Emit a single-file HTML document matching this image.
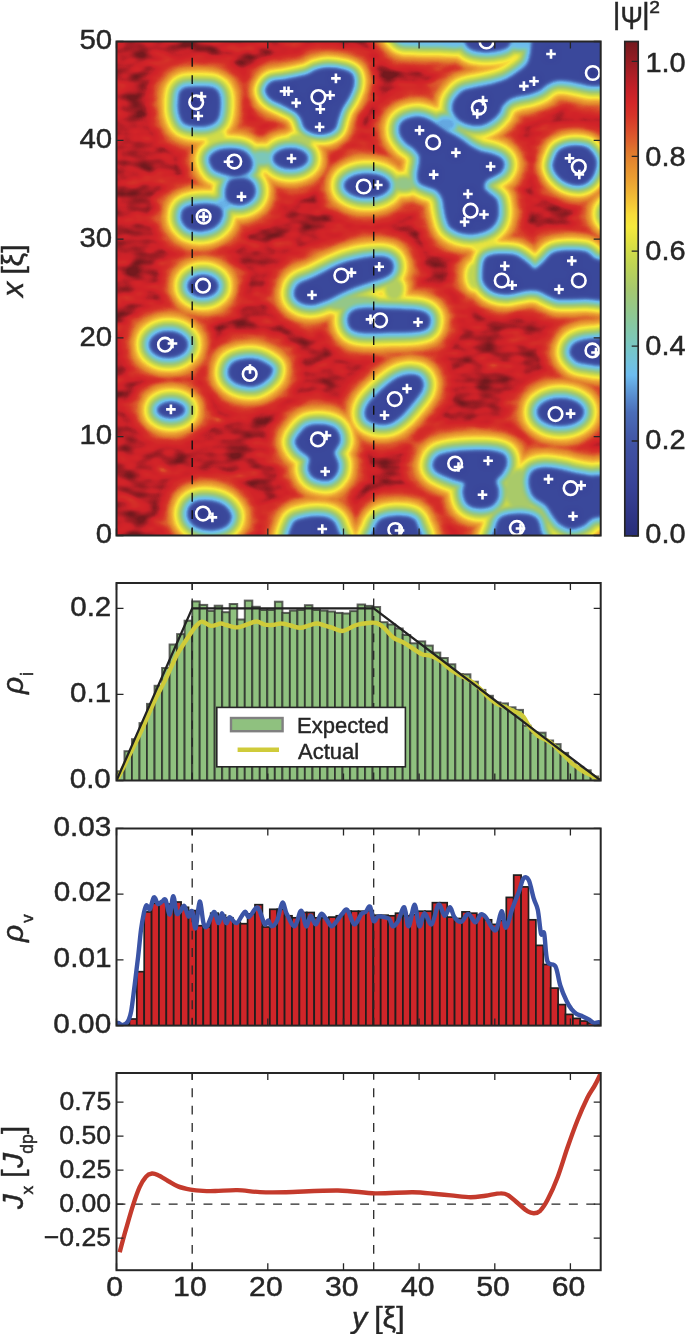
<!DOCTYPE html><html><head><meta charset="utf-8"><style>html,body{margin:0;padding:0;background:#fff;}svg{display:block;will-change:transform;}text{fill:#262626;stroke:#262626;stroke-width:0.45px;font-family:'Liberation Sans',sans-serif}</style></head><body>
<svg width="685" height="1334" viewBox="0 0 685 1334" style="font-family:'Liberation Sans',sans-serif">
<g font-size="28">
<defs>
<path id="B1" d="M180,92C181.2,89.8 182.7,88.3 186,87.5C189.3,86.7 195.5,86.9 200,87C204.5,87.1 209.8,86.8 213,88C216.2,89.2 217.8,90.7 219,94C220.2,97.3 220.3,103.7 220,108C219.7,112.3 219,117.1 217,120C215,122.9 211.7,124.5 208,125.5C204.3,126.5 199,126.4 195,126C191,125.6 186.7,125.2 184,123C181.3,120.8 179.9,116.7 179,113C178.1,109.3 178.3,104.5 178.5,101C178.7,97.5 178.8,94.2 180,92Z"/>
<path id="B2" d="M209.4,159.2C209.7,156.3 212.4,153.6 215.3,151.9C218.2,150.2 222.6,149.2 227,149C231.4,148.8 237.6,149 241.5,150.4C245.4,151.8 248.6,155 250.3,157.7C252,160.4 252.5,163.8 251.8,166.5C251.1,169.2 248.6,172.1 245.9,173.8C243.2,175.5 239.3,176.7 235.7,176.7C232,176.7 227.7,175 224,173.8C220.3,172.6 216.2,171.8 213.8,169.4C211.4,167 209.2,162.1 209.4,159.2Z"/>
<path id="B2b" d="M227,185.5C228,183.1 228.4,180.8 231.3,179.6C234.2,178.4 240.8,177.5 244.5,178.2C248.2,178.9 251.5,181.3 253.2,184C254.9,186.7 255.4,191.3 254.7,194.2C254,197.1 251.5,199.8 248.8,201.5C246.1,203.2 242,204.5 238.6,204.5C235.2,204.5 230.6,203.2 228.4,201.5C226.2,199.8 225.7,196.9 225.5,194.2C225.3,191.5 226,187.9 227,185.5Z"/>
<path id="B5" d="M181.7,213.2C182.3,210.8 183.4,208.8 186.1,207.4C188.8,206 193.4,205 197.8,204.5C202.2,204 208.5,203.8 212.4,204.5C216.3,205.2 219.6,206.6 221.1,208.8C222.6,211 222.7,214.7 221.7,217.6C220.7,220.5 218.3,224.2 215.3,226.4C212.3,228.6 207.7,230.2 203.6,230.7C199.5,231.2 194,230.8 190.5,229.3C187,227.9 184.1,224.7 182.6,222C181.1,219.3 181.1,215.6 181.7,213.2Z"/>
<ellipse id="B3" cx="290.5" cy="158.5" rx="17" ry="10"/>
<path id="B4" d="M265.9,88.9C266.7,86.8 268.4,83.5 271.7,81.9C275,80.3 279.9,80.7 285.7,79.5C291.5,78.3 301.6,76.5 306.7,74.9C311.8,73.4 312.6,71.4 316.1,70.2C319.6,69 323.1,67.9 327.8,67.9C332.5,67.9 340,69 344.1,70.2C348.2,71.4 350.7,72.4 352.3,74.9C353.9,77.4 354.1,81.7 353.5,85.4C352.9,89.1 350.8,93.2 348.8,97.1C346.9,101 343.6,105.2 341.8,108.7C340.1,112.2 339.5,114.8 338.3,118.1C337.1,121.4 337,126.1 334.8,128.6C332.6,131.1 329.3,132.7 325.4,133.3C321.5,133.9 314.9,133.1 311.4,132.1C307.9,131.1 306.1,129.7 304.4,127.4C302.6,125.1 302.5,120.8 300.9,118.1C299.3,115.4 297.9,113.2 295,111.1C292.1,108.9 287.3,107.2 283.4,105.2C279.5,103.2 274.4,101.2 271.7,99.4C269,97.7 268,96.5 267,94.7C266,93 265.1,91 265.9,88.9Z"/>
<ellipse id="B6" cx="203" cy="286" rx="15" ry="10.5"/>
<ellipse id="B7" cx="168.5" cy="344.6" rx="19" ry="13"/>
<path id="B8" d="M228.4,372C228.6,369.2 230.2,365.1 233,363C235.8,360.9 240.8,359.8 245,359.3C249.2,358.8 254.2,359.1 258,360C261.8,360.9 265.6,363.4 268,365C270.4,366.6 272.2,367.3 272.2,369.5C272.2,371.7 270.7,375.3 268,378C265.3,380.7 260.3,384.3 256,385.5C251.7,386.7 246,385.9 242,385C238,384.1 234.3,382.2 232,380C229.7,377.8 228.2,374.8 228.4,372Z"/>
<ellipse id="B9" cx="171" cy="410" rx="13.5" ry="7.5"/>
<path id="B11" d="M188,511C188.7,508.1 190.7,504.8 193.5,503C196.3,501.2 200.8,500.5 205,500.5C209.2,500.5 215.2,501.5 219,503C222.8,504.5 226,507 228,509.5C230,512 231.5,515.2 231,518C230.5,520.8 228.2,524.5 225,526.5C221.8,528.5 216.5,529.8 212,530C207.5,530.2 201.8,529.1 198,527.5C194.2,525.9 191.2,523.2 189.5,520.5C187.8,517.8 187.3,513.9 188,511Z"/>
<ellipse id="B14" cx="367" cy="185.6" rx="22.5" ry="11.5"/>
<path id="B15" d="M399.5,127.6C399.8,125.4 400.6,123.5 402.4,121.9C404.1,120.3 407.1,118.9 410,118.1C412.9,117.3 416.3,116.8 419.5,117.1C422.7,117.4 425.9,118.6 429,120C432.1,121.4 435.2,123.7 438.4,125.7C441.6,127.8 445.1,130.6 448,132.3C450.9,134 453,134.7 455.5,136.1C458,137.5 460.6,139.2 463.1,140.9C465.6,142.6 467.9,144.8 470.7,146.5C473.5,148.2 476.7,150 480.2,151.3C483.7,152.6 488.3,153 491.6,154.1C494.9,155.2 498.1,156.3 500.1,157.9C502.2,159.5 503.7,161.4 503.9,163.6C504.1,165.8 502.8,169.1 501.1,171.2C499.4,173.3 496,174.4 493.5,176C491,177.6 487.5,178.6 485.9,180.7C484.3,182.8 483.4,186.1 484,188.3C484.6,190.5 487.6,192.1 489.7,194C491.8,195.9 494.9,197.2 496.3,199.7C497.7,202.2 498,206 498.2,209.2C498.4,212.4 498.4,215.7 497.3,218.7C496.2,221.7 494.1,225 491.6,227.2C489.1,229.4 485.6,230.9 482.1,232C478.6,233.1 474.5,233.9 470.7,233.9C466.9,233.9 462.8,233.3 459.3,232C455.8,230.7 452,228.8 449.8,226.3C447.6,223.8 446.9,220 446,216.8C445.1,213.6 444.7,210.5 444.1,207.3C443.5,204.1 443.5,200.7 442.2,197.8C440.9,195 439,192.1 436.5,190.2C434,188.3 429.9,187.7 427.1,186.4C424.3,185.1 421.1,184.5 419.5,182.6C417.9,180.7 417.6,178.2 417.6,175C417.6,171.8 419.2,166.8 419.5,163.6C419.8,160.4 420.4,158.5 419.5,156C418.6,153.5 416,150.6 413.8,148.4C411.6,146.2 408.4,145 406.2,142.8C404,140.6 401.6,137.7 400.5,135.2C399.4,132.7 399.2,129.8 399.5,127.6Z"/>
<path id="BAND" d="M452.7,106.4C452.9,104.2 453.3,101.9 455,99.4C456.7,96.9 459.5,93.2 463,91.2C466.5,89.2 471.1,88.9 476,87.7C480.9,86.5 487.3,85.6 492.4,84.2C497.5,82.8 502,81.6 506.4,79.5C510.8,77.4 515.5,74.1 519,71.4C522.5,68.7 525.6,66.4 527.5,63.5C529.4,60.6 529.8,56.9 530.5,54C531.2,51.1 530.9,48.3 531.5,46C532.1,43.7 529.2,41.3 534,40C538.8,38.7 549,38.3 560,38C571,37.7 591.3,37.7 600,38C608.7,38.3 610,32.3 612,40C614,47.7 613.8,76.4 612,84C610.2,91.6 604.6,85.2 601,85.4C597.4,85.6 594.2,85.8 590.5,85.4C586.8,85 582.7,83.8 578.8,83C574.9,82.2 571,81.1 567.1,80.7C563.2,80.3 558.8,80.1 555.5,80.7C552.2,81.3 550,82.6 547.3,84.2C544.6,85.8 542,88.5 539.1,90.1C536.2,91.7 533.3,92.6 529.8,93.6C526.3,94.6 521.6,94.9 518.1,95.9C514.6,96.9 511.4,97.7 508.7,99.4C506,101.1 503.6,103.8 502,106C500.4,108.2 500.9,110.1 499.2,112.4C497.5,114.7 494.5,118 491.6,120C488.8,122 485.6,123.9 482.1,124.7C478.6,125.5 474.5,125.5 470.7,124.7C466.9,123.9 462.1,122 459.3,120C456.5,118 454.7,114.7 453.6,112.4C452.5,110.1 452.5,108.6 452.7,106.4Z"/>
<path id="TOP1" d="M465,30C457.5,32.3 464.8,40.8 466,44C467.2,47.2 468.6,48.2 472,49.5C475.4,50.8 481.8,51.4 486.5,51.5C491.2,51.6 496.4,50.8 500,50C503.6,49.2 506.2,48.2 508,46.5C509.8,44.8 510.5,42.8 511,40C511.5,37.2 518.7,31.7 511,30C503.3,28.3 472.5,27.7 465,30Z"/>
<path id="TOP2" d="M400,30C388.3,31.9 397.5,39.2 400,41.5C402.5,43.8 408.3,43.1 415,43.5C421.7,43.9 432.2,43.9 440,44C447.8,44.1 457,46.3 462,44C467,41.7 480.3,32.3 470,30C459.7,27.7 411.7,28.1 400,30Z"/>
<path id="B16" d="M295.3,289C296.1,286.7 296.9,285.1 300,283.2C303.1,281.3 308.6,279.9 314,277.4C319.4,274.9 327.2,270.5 332.7,268C338.1,265.5 341.6,263.8 346.7,262.2C351.8,260.6 357.6,259.1 363,258.2C368.4,257.3 375.1,256.7 379.4,256.8C383.7,256.9 386.5,257.4 388.8,258.7C391.1,260 392.6,262.2 393,264.5C393.4,266.8 392.6,270.6 391.1,272.7C389.6,274.8 387.5,275.8 384,277.4C380.5,278.9 374.7,280.4 370,282C365.3,283.6 360.7,284.9 356,286.7C351.3,288.5 346.7,290.5 342,292.6C337.3,294.8 332.7,297.7 328,299.6C323.3,301.5 318.3,303.6 314,304.2C309.7,304.8 305.5,304.2 302.4,303C299.3,301.8 296.5,299.5 295.3,297.2C294.1,294.9 294.5,291.3 295.3,289Z"/>
<path id="B18" d="M348,320C348,317.2 349.2,313.9 351.5,312C353.8,310.1 355.6,309 362,308.5C368.4,308 380.8,308.7 390,309C399.2,309.3 410.8,309.7 417,310.5C423.2,311.3 424.8,312.2 427,314C429.2,315.8 430.1,318.6 430,321C429.9,323.4 429.2,326.8 426.5,328.5C423.8,330.2 420.1,330.9 414,331.5C407.9,332.1 398.7,332.1 390,332.3C381.3,332.5 368.4,333.1 362,332.5C355.6,331.9 353.8,331.1 351.5,329C349.2,326.9 348,322.8 348,320Z"/>
<path id="B19" d="M366,417.2C364.8,414.3 365.1,409.9 367.5,405.5C369.9,401.1 375.6,395.6 380.7,391C385.8,386.4 392.8,380.5 398.2,377.8C403.6,375.1 408.9,374.6 412.8,374.9C416.7,375.1 419.9,376.9 421.5,379.3C423.1,381.7 423.6,385.6 422.1,389.5C420.7,393.4 416.3,398.2 412.8,402.6C409.3,407 405,412.4 401.1,415.8C397.2,419.2 393.8,421.9 389.4,423.1C385,424.3 378.7,424.1 374.8,423.1C370.9,422.1 367.2,420.1 366,417.2Z"/>
<path id="B12" d="M298.9,435C300.9,432.4 303.8,428 307.7,426.3C311.6,424.6 317.7,424.3 322.3,424.8C326.9,425.3 332.5,426.5 335.4,429.2C338.3,431.9 340,437 339.8,440.9C339.6,444.8 334.3,448.7 334,452.5C333.7,456.3 337.6,460.1 338,463.5C338.4,466.9 338.2,470.2 336.5,473C334.8,475.8 331.8,479.2 328,480C324.2,480.8 317.2,479.3 314,477.5C310.8,475.7 309.2,472.2 308.5,469C307.8,465.8 311,461.2 309.5,458C308,454.8 301.8,452.3 299.5,449.6C297.2,446.9 295.6,444.4 295.5,442C295.4,439.6 296.9,437.6 298.9,435Z"/>
<path id="B20" d="M433.2,464.2C433.7,461.6 435.7,457.5 439.1,455.5C442.5,453.5 447.6,452.9 453.7,452C459.8,451.1 469.2,450.5 476,450.4C482.8,450.3 490,450.7 494.7,451.5C499.4,452.3 502.2,452.9 504.1,455C506.1,457.1 506.8,461.3 506.4,464.4C506,467.5 503.4,471 501.7,473.7C499.9,476.4 496.5,478 495.9,480.7C495.3,483.4 498,487 498.2,490.1C498.4,493.2 498.5,496.7 497.1,499.4C495.7,502.1 493.5,505 490,506.4C486.5,507.8 479.9,508.2 476,507.6C472.1,507 468.8,505.4 466.7,502.9C464.6,500.4 463.6,495.7 463.2,492.4C462.8,489.1 465.8,485.2 464.4,483.1C463,481 458.1,480.8 455,479.6C451.9,478.4 448.9,477.5 445.7,476.1C442.5,474.7 438.1,473 436,471C433.9,469 432.7,466.8 433.2,464.2Z"/>
<path id="B13" d="M374.8,528.5C376.1,524.3 377.3,521.8 380.7,519.7C384.1,517.7 390.2,516.5 395.3,516.2C400.4,516 407.7,516.7 411.3,518.2C414.9,519.8 415.9,521 417.2,525.5C418.5,530 426.4,541.8 419,545C411.6,548.2 380.4,547.8 373,545C365.6,542.2 373.5,532.7 374.8,528.5Z"/>
<path id="B21" d="M293,524C295.1,519.5 300.4,519.4 304.8,518.2C309.2,517 315,516.5 319.4,516.8C323.8,517 328.1,517.8 331,519.7C333.9,521.7 335.7,524.3 336.9,528.5C338.1,532.7 345.5,542.2 338,545C330.5,547.8 299.5,548.5 292,545C284.5,541.5 290.9,528.5 293,524Z"/>
<path id="B22" d="M555.5,157C554.4,159.7 552.7,163.3 553.1,166.4C553.5,169.5 555.5,173 557.8,175.7C560.1,178.4 563.6,181.1 567.1,182.7C570.6,184.2 575.3,185.2 578.8,185C582.3,184.8 585.7,183.4 588.2,181.5C590.7,179.6 592.6,176.7 594,173.4C595.4,170.1 596.5,165 596.3,161.7C596.1,158.4 594.5,155.9 592.8,153.5C591,151.1 589.3,148.5 585.8,147.3C582.3,146.1 576.1,145.7 571.8,146.1C567.5,146.5 562.7,148.2 560,150C557.3,151.8 556.6,154.3 555.5,157Z"/>
<path id="B23" d="M483,268.4C483.2,265.3 483.4,263.3 484.2,261.4C485,259.4 485.2,257.9 487.7,256.7C490.2,255.5 494.7,254.5 499.4,254.3C504.1,254.1 511.1,254.1 515.7,255.5C520.3,256.9 523.8,260.8 527,263C530.2,265.2 532.2,269.2 535,269C537.8,268.8 541,264.6 544,262C547,259.4 549.2,255.1 553.1,253.2C557,251.3 561.7,251 567.1,250.8C572.5,250.6 581.1,250.6 585.8,252C590.5,253.4 590.8,256.7 595.2,259C599.6,261.3 609.2,259.6 612,266C614.8,272.4 616.4,292.2 612,297.6C607.6,303.1 592.5,298.4 585.8,298.7C579.1,299 576.5,299.1 571.8,299.2C567.1,299.2 561.7,299.6 557.8,299C553.9,298.4 551.6,296.8 548.5,295.5C545.4,294.2 542.1,291.9 539,291C535.9,290.1 533.5,289.8 530,290C526.5,290.2 522,291.3 518,292C514,292.7 509.9,294 506,294C502.1,294 497.7,293.2 494.5,292C491.3,290.8 488.9,289 487,287C485.1,285 483.7,283.1 483,280C482.3,276.9 482.8,271.5 483,268.4Z"/>
<path id="B25" d="M570,352C570,349.7 571.5,346.4 573.5,344.5C575.5,342.6 578.4,341.4 582,340.5C585.6,339.6 590,339.2 595,339C600,338.8 609.2,334.8 612,339C614.8,343.2 617,360 612,364C607,368 588.4,363.9 582,363C575.6,362.1 575.5,360.3 573.5,358.5C571.5,356.7 570,354.3 570,352Z"/>
<ellipse id="B26" cx="560.5" cy="412" rx="23" ry="13.5"/>
<path id="B27" d="M529.8,476.1C530.6,473.2 531.7,471.6 534.4,470.2C537.1,468.8 541.4,467.9 546.1,467.9C550.8,467.9 557.4,469.2 562.5,470.2C567.6,471.2 571.8,472.7 576.5,473.7C581.2,474.7 584.6,475.3 590.5,476.1C596.4,476.9 608.4,472.6 612,478.4C615.6,484.2 615.2,504.5 612,511.1C608.8,517.7 597.5,515.8 592.8,518.1C588,520.4 587,523.4 583.5,525.1C580,526.9 575.7,528.8 571.8,528.6C567.9,528.4 563.2,526.1 560.1,524C557,521.9 555.4,518.9 553.1,515.8C550.8,512.7 549.2,508.4 546.1,505.3C543,502.2 537.1,500 534.4,497.1C531.7,494.2 530.6,491.2 529.8,487.7C529,484.2 529,479 529.8,476.1Z"/>
<path id="B28" d="M495.9,527.5C496.8,523 498.1,520.2 500.6,518.1C503.1,516 506.6,515.2 511.1,514.6C515.6,514 523.1,513.8 527.4,514.6C531.7,515.4 534.6,516.7 536.8,519.3C538.9,521.9 539.6,525.7 540.3,530C541,534.3 548.5,542.5 541,545C533.5,547.5 502.5,547.9 495,545C487.5,542.1 495,532 495.9,527.5Z"/>
<ellipse id="RE" cx="614" cy="214" rx="8" ry="7"/>
<ellipse id="br1" cx="240" cy="177.5" rx="7" ry="4"/>
<ellipse id="br2" cx="224" cy="204" rx="6" ry="4"/>
<ellipse id="br3" cx="262" cy="158" rx="11" ry="5.5"/>
<ellipse id="br4" cx="446" cy="124" rx="8" ry="5"/>
<ellipse id="br5" cx="522" cy="43" rx="12" ry="3.5"/>
<ellipse id="br6" cx="352" cy="303" rx="26" ry="5"/>
<ellipse id="br21" cx="394" cy="289" rx="7" ry="9"/>
<ellipse id="br22" cx="475" cy="276" rx="6" ry="11"/>
<ellipse id="br7" cx="521" cy="490" rx="15" ry="19"/>
<ellipse id="br10" cx="404" cy="184" rx="10" ry="5"/>
<ellipse id="br18" cx="485" cy="245" rx="12" ry="5"/>
<ellipse id="br19" cx="216" cy="138" rx="8" ry="8"/>
<ellipse id="br20" cx="300" cy="141" rx="10" ry="5"/>
<clipPath id="hmclip"><rect x="116.5" y="41.5" width="484.2" height="494"/></clipPath>
<filter id="hf" filterUnits="userSpaceOnUse" x="100" y="25" width="520" height="530" color-interpolation-filters="sRGB">
<feGaussianBlur in="SourceGraphic" stdDeviation="1.6" result="P"/>
<feComponentTransfer in="P" result="W"><feFuncR type="gamma" amplitude="1" exponent="10" offset="0"/><feFuncG type="gamma" amplitude="1" exponent="10" offset="0"/><feFuncB type="gamma" amplitude="1" exponent="10" offset="0"/></feComponentTransfer>
<feTurbulence type="fractalNoise" baseFrequency="0.04 0.075" numOctaves="2" seed="7" result="T"/>
<feColorMatrix in="T" type="matrix" values="1 0 0 0 0 1 0 0 0 0 1 0 0 0 0 0 0 0 0 1" result="NN"/>
<feComposite in="W" in2="NN" operator="arithmetic" k1="1" k2="0" k3="0" k4="0" result="WN"/>
<feComposite in="WN" in2="W" operator="arithmetic" k1="0" k2="1" k3="-0.450" k4="0.5" result="M"/>
<feComposite in="P" in2="M" operator="arithmetic" k1="0" k2="0.8800" k3="0.3960" k4="-0.1980" result="Q"/>
<feComponentTransfer in="Q"><feFuncR type="table" tableValues="0.186 0.191 0.195 0.199 0.204 0.208 0.212 0.216 0.219 0.222 0.225 0.228 0.231 0.234 0.237 0.240 0.242 0.245 0.248 0.251 0.254 0.258 0.263 0.268 0.273 0.278 0.283 0.287 0.292 0.301 0.312 0.323 0.333 0.344 0.357 0.374 0.391 0.408 0.426 0.435 0.441 0.447 0.452 0.458 0.464 0.470 0.480 0.492 0.503 0.515 0.526 0.538 0.550 0.564 0.578 0.593 0.607 0.621 0.636 0.651 0.668 0.685 0.703 0.720 0.737 0.754 0.775 0.801 0.827 0.853 0.879 0.901 0.922 0.944 0.966 0.979 0.975 0.970 0.966 0.962 0.955 0.949 0.942 0.935 0.928 0.921 0.914 0.907 0.900 0.893 0.886 0.881 0.876 0.872 0.868 0.863 0.859 0.855 0.850 0.846 0.842 0.837 0.835 0.833 0.831 0.829 0.828 0.826 0.825 0.823 0.816 0.809 0.802 0.791 0.772 0.753 0.732 0.710 0.687 0.665 0.642 0.620 0.598 0.575 0.551 0.528 0.504 0.481 0.458"/><feFuncG type="table" tableValues="0.216 0.221 0.227 0.233 0.239 0.245 0.251 0.256 0.262 0.268 0.274 0.280 0.285 0.291 0.297 0.303 0.309 0.314 0.320 0.326 0.332 0.342 0.354 0.366 0.378 0.390 0.403 0.415 0.427 0.447 0.472 0.498 0.523 0.549 0.577 0.616 0.654 0.693 0.732 0.749 0.755 0.760 0.766 0.772 0.778 0.783 0.784 0.784 0.784 0.784 0.784 0.784 0.784 0.784 0.784 0.784 0.784 0.784 0.784 0.786 0.795 0.803 0.812 0.821 0.829 0.838 0.847 0.855 0.864 0.873 0.881 0.890 0.898 0.907 0.916 0.912 0.882 0.852 0.821 0.791 0.763 0.735 0.708 0.680 0.652 0.626 0.605 0.584 0.563 0.543 0.522 0.495 0.461 0.426 0.392 0.357 0.327 0.296 0.266 0.236 0.210 0.193 0.182 0.175 0.168 0.161 0.154 0.147 0.142 0.137 0.136 0.135 0.134 0.132 0.130 0.127 0.124 0.122 0.120 0.117 0.115 0.113 0.111 0.109 0.107 0.105 0.103 0.101 0.099"/><feFuncB type="table" tableValues="0.529 0.538 0.547 0.556 0.564 0.573 0.582 0.589 0.594 0.598 0.602 0.607 0.611 0.615 0.620 0.624 0.628 0.633 0.637 0.642 0.646 0.654 0.664 0.673 0.683 0.693 0.702 0.712 0.722 0.737 0.755 0.773 0.791 0.809 0.829 0.855 0.881 0.907 0.932 0.924 0.898 0.872 0.846 0.820 0.795 0.769 0.743 0.717 0.691 0.665 0.639 0.613 0.587 0.564 0.541 0.518 0.495 0.472 0.449 0.428 0.410 0.393 0.376 0.359 0.341 0.324 0.308 0.296 0.283 0.270 0.257 0.251 0.247 0.243 0.238 0.234 0.230 0.225 0.221 0.217 0.213 0.210 0.206 0.203 0.199 0.196 0.192 0.189 0.185 0.182 0.178 0.176 0.176 0.176 0.176 0.176 0.173 0.168 0.164 0.160 0.157 0.157 0.157 0.157 0.157 0.157 0.157 0.157 0.157 0.157 0.157 0.157 0.157 0.157 0.157 0.157 0.155 0.152 0.150 0.147 0.144 0.141 0.138 0.135 0.132 0.129 0.125 0.122 0.119"/><feFuncA type="linear" slope="0" intercept="1"/></feComponentTransfer>
</filter>
<filter id="coreblur" x="-50%" y="-50%" width="200%" height="200%"><feGaussianBlur stdDeviation="3"/></filter>
</defs>
<g clip-path="url(#hmclip)"><g filter="url(#hf)">
<rect x="100" y="25" width="520" height="530" fill="#fff"/>
<g style="mix-blend-mode:darken" stroke-linejoin="round">
<use href="#B1" fill="#fdfdfd" stroke="#fdfdfd" stroke-width="72"/>
<use href="#B1" fill="#f0f0f0" stroke="#f0f0f0" stroke-width="64"/>
<use href="#B1" fill="#e3e3e3" stroke="#e3e3e3" stroke-width="56"/>
<use href="#B1" fill="#d8d8d8" stroke="#d8d8d8" stroke-width="49"/>
<use href="#B1" fill="#cbcbcb" stroke="#cbcbcb" stroke-width="42"/>
<use href="#B1" fill="#bcbcbc" stroke="#bcbcbc" stroke-width="36"/>
<use href="#B1" fill="#adadad" stroke="#adadad" stroke-width="30"/>
<use href="#B1" fill="#9e9e9e" stroke="#9e9e9e" stroke-width="25"/>
<use href="#B1" fill="#909090" stroke="#909090" stroke-width="20"/>
<use href="#B1" fill="#808080" stroke="#808080" stroke-width="16"/>
<use href="#B1" fill="#6f6f6f" stroke="#6f6f6f" stroke-width="12"/>
<use href="#B1" fill="#5f5f5f" stroke="#5f5f5f" stroke-width="9"/>
<use href="#B1" fill="#565656" stroke="#565656" stroke-width="6"/>
<use href="#B1" fill="#515151" stroke="#515151" stroke-width="3"/>
<use href="#B1" fill="#1a1a1a" stroke="none"/>
<use href="#B1" fill="none" stroke="#4f4f4f" stroke-width="2.4"/>
</g>
<g style="mix-blend-mode:darken" stroke-linejoin="round">
<use href="#B2" fill="#ffffff" stroke="#ffffff" stroke-width="72"/>
<use href="#B2" fill="#f5f5f5" stroke="#f5f5f5" stroke-width="64"/>
<use href="#B2" fill="#e6e6e6" stroke="#e6e6e6" stroke-width="56"/>
<use href="#B2" fill="#dcdcdc" stroke="#dcdcdc" stroke-width="49"/>
<use href="#B2" fill="#cfcfcf" stroke="#cfcfcf" stroke-width="42"/>
<use href="#B2" fill="#c0c0c0" stroke="#c0c0c0" stroke-width="36"/>
<use href="#B2" fill="#b1b1b1" stroke="#b1b1b1" stroke-width="30"/>
<use href="#B2" fill="#a2a2a2" stroke="#a2a2a2" stroke-width="25"/>
<use href="#B2" fill="#939393" stroke="#939393" stroke-width="20"/>
<use href="#B2" fill="#838383" stroke="#838383" stroke-width="16"/>
<use href="#B2" fill="#727272" stroke="#727272" stroke-width="12"/>
<use href="#B2" fill="#616161" stroke="#616161" stroke-width="9"/>
<use href="#B2" fill="#565656" stroke="#565656" stroke-width="6"/>
<use href="#B2" fill="#515151" stroke="#515151" stroke-width="3"/>
<use href="#B2" fill="#1a1a1a" stroke="none"/>
<use href="#B2" fill="none" stroke="#4f4f4f" stroke-width="2.4"/>
</g>
<g style="mix-blend-mode:darken" stroke-linejoin="round">
<use href="#B2b" fill="#ffffff" stroke="#ffffff" stroke-width="72"/>
<use href="#B2b" fill="#f5f5f5" stroke="#f5f5f5" stroke-width="64"/>
<use href="#B2b" fill="#e6e6e6" stroke="#e6e6e6" stroke-width="56"/>
<use href="#B2b" fill="#dcdcdc" stroke="#dcdcdc" stroke-width="49"/>
<use href="#B2b" fill="#cfcfcf" stroke="#cfcfcf" stroke-width="42"/>
<use href="#B2b" fill="#c0c0c0" stroke="#c0c0c0" stroke-width="36"/>
<use href="#B2b" fill="#b1b1b1" stroke="#b1b1b1" stroke-width="30"/>
<use href="#B2b" fill="#a2a2a2" stroke="#a2a2a2" stroke-width="25"/>
<use href="#B2b" fill="#939393" stroke="#939393" stroke-width="20"/>
<use href="#B2b" fill="#838383" stroke="#838383" stroke-width="16"/>
<use href="#B2b" fill="#727272" stroke="#727272" stroke-width="12"/>
<use href="#B2b" fill="#616161" stroke="#616161" stroke-width="9"/>
<use href="#B2b" fill="#565656" stroke="#565656" stroke-width="6"/>
<use href="#B2b" fill="#515151" stroke="#515151" stroke-width="3"/>
<use href="#B2b" fill="#1a1a1a" stroke="none"/>
<use href="#B2b" fill="none" stroke="#4f4f4f" stroke-width="2.4"/>
</g>
<g style="mix-blend-mode:darken" stroke-linejoin="round">
<use href="#B5" fill="#ffffff" stroke="#ffffff" stroke-width="72"/>
<use href="#B5" fill="#f5f5f5" stroke="#f5f5f5" stroke-width="64"/>
<use href="#B5" fill="#e6e6e6" stroke="#e6e6e6" stroke-width="56"/>
<use href="#B5" fill="#dcdcdc" stroke="#dcdcdc" stroke-width="49"/>
<use href="#B5" fill="#cfcfcf" stroke="#cfcfcf" stroke-width="42"/>
<use href="#B5" fill="#c0c0c0" stroke="#c0c0c0" stroke-width="36"/>
<use href="#B5" fill="#b1b1b1" stroke="#b1b1b1" stroke-width="30"/>
<use href="#B5" fill="#a2a2a2" stroke="#a2a2a2" stroke-width="25"/>
<use href="#B5" fill="#939393" stroke="#939393" stroke-width="20"/>
<use href="#B5" fill="#838383" stroke="#838383" stroke-width="16"/>
<use href="#B5" fill="#727272" stroke="#727272" stroke-width="12"/>
<use href="#B5" fill="#616161" stroke="#616161" stroke-width="9"/>
<use href="#B5" fill="#565656" stroke="#565656" stroke-width="6"/>
<use href="#B5" fill="#515151" stroke="#515151" stroke-width="3"/>
<use href="#B5" fill="#1a1a1a" stroke="none"/>
<use href="#B5" fill="none" stroke="#4f4f4f" stroke-width="2.4"/>
</g>
<g style="mix-blend-mode:darken" stroke-linejoin="round">
<use href="#B3" fill="#ffffff" stroke="#ffffff" stroke-width="72"/>
<use href="#B3" fill="#f5f5f5" stroke="#f5f5f5" stroke-width="64"/>
<use href="#B3" fill="#e6e6e6" stroke="#e6e6e6" stroke-width="56"/>
<use href="#B3" fill="#dcdcdc" stroke="#dcdcdc" stroke-width="49"/>
<use href="#B3" fill="#cfcfcf" stroke="#cfcfcf" stroke-width="42"/>
<use href="#B3" fill="#c0c0c0" stroke="#c0c0c0" stroke-width="36"/>
<use href="#B3" fill="#b1b1b1" stroke="#b1b1b1" stroke-width="30"/>
<use href="#B3" fill="#a2a2a2" stroke="#a2a2a2" stroke-width="25"/>
<use href="#B3" fill="#939393" stroke="#939393" stroke-width="20"/>
<use href="#B3" fill="#838383" stroke="#838383" stroke-width="16"/>
<use href="#B3" fill="#727272" stroke="#727272" stroke-width="12"/>
<use href="#B3" fill="#616161" stroke="#616161" stroke-width="9"/>
<use href="#B3" fill="#565656" stroke="#565656" stroke-width="6"/>
<use href="#B3" fill="#515151" stroke="#515151" stroke-width="3"/>
<use href="#B3" fill="#1a1a1a" stroke="none"/>
<use href="#B3" fill="none" stroke="#4f4f4f" stroke-width="2.4"/>
</g>
<g style="mix-blend-mode:darken" stroke-linejoin="round">
<use href="#B4" fill="#ffffff" stroke="#ffffff" stroke-width="64"/>
<use href="#B4" fill="#fafafa" stroke="#fafafa" stroke-width="56"/>
<use href="#B4" fill="#ebebeb" stroke="#ebebeb" stroke-width="49"/>
<use href="#B4" fill="#dedede" stroke="#dedede" stroke-width="42"/>
<use href="#B4" fill="#d0d0d0" stroke="#d0d0d0" stroke-width="36"/>
<use href="#B4" fill="#c0c0c0" stroke="#c0c0c0" stroke-width="30"/>
<use href="#B4" fill="#b0b0b0" stroke="#b0b0b0" stroke-width="25"/>
<use href="#B4" fill="#9f9f9f" stroke="#9f9f9f" stroke-width="20"/>
<use href="#B4" fill="#8f8f8f" stroke="#8f8f8f" stroke-width="16"/>
<use href="#B4" fill="#7d7d7d" stroke="#7d7d7d" stroke-width="12"/>
<use href="#B4" fill="#696969" stroke="#696969" stroke-width="9"/>
<use href="#B4" fill="#585858" stroke="#585858" stroke-width="6"/>
<use href="#B4" fill="#515151" stroke="#515151" stroke-width="3"/>
<use href="#B4" fill="#1a1a1a" stroke="none"/>
<use href="#B4" fill="none" stroke="#4f4f4f" stroke-width="2.4"/>
</g>
<g style="mix-blend-mode:darken" stroke-linejoin="round">
<use href="#B6" fill="#ffffff" stroke="#ffffff" stroke-width="72"/>
<use href="#B6" fill="#f5f5f5" stroke="#f5f5f5" stroke-width="64"/>
<use href="#B6" fill="#e6e6e6" stroke="#e6e6e6" stroke-width="56"/>
<use href="#B6" fill="#dcdcdc" stroke="#dcdcdc" stroke-width="49"/>
<use href="#B6" fill="#cfcfcf" stroke="#cfcfcf" stroke-width="42"/>
<use href="#B6" fill="#c0c0c0" stroke="#c0c0c0" stroke-width="36"/>
<use href="#B6" fill="#b1b1b1" stroke="#b1b1b1" stroke-width="30"/>
<use href="#B6" fill="#a2a2a2" stroke="#a2a2a2" stroke-width="25"/>
<use href="#B6" fill="#939393" stroke="#939393" stroke-width="20"/>
<use href="#B6" fill="#838383" stroke="#838383" stroke-width="16"/>
<use href="#B6" fill="#727272" stroke="#727272" stroke-width="12"/>
<use href="#B6" fill="#616161" stroke="#616161" stroke-width="9"/>
<use href="#B6" fill="#565656" stroke="#565656" stroke-width="6"/>
<use href="#B6" fill="#515151" stroke="#515151" stroke-width="3"/>
<use href="#B6" fill="#1a1a1a" stroke="none"/>
<use href="#B6" fill="none" stroke="#4f4f4f" stroke-width="2.4"/>
</g>
<g style="mix-blend-mode:darken" stroke-linejoin="round">
<use href="#B7" fill="#ffffff" stroke="#ffffff" stroke-width="72"/>
<use href="#B7" fill="#f5f5f5" stroke="#f5f5f5" stroke-width="64"/>
<use href="#B7" fill="#e6e6e6" stroke="#e6e6e6" stroke-width="56"/>
<use href="#B7" fill="#dcdcdc" stroke="#dcdcdc" stroke-width="49"/>
<use href="#B7" fill="#cfcfcf" stroke="#cfcfcf" stroke-width="42"/>
<use href="#B7" fill="#c0c0c0" stroke="#c0c0c0" stroke-width="36"/>
<use href="#B7" fill="#b1b1b1" stroke="#b1b1b1" stroke-width="30"/>
<use href="#B7" fill="#a2a2a2" stroke="#a2a2a2" stroke-width="25"/>
<use href="#B7" fill="#939393" stroke="#939393" stroke-width="20"/>
<use href="#B7" fill="#838383" stroke="#838383" stroke-width="16"/>
<use href="#B7" fill="#727272" stroke="#727272" stroke-width="12"/>
<use href="#B7" fill="#616161" stroke="#616161" stroke-width="9"/>
<use href="#B7" fill="#565656" stroke="#565656" stroke-width="6"/>
<use href="#B7" fill="#515151" stroke="#515151" stroke-width="3"/>
<use href="#B7" fill="#1a1a1a" stroke="none"/>
<use href="#B7" fill="none" stroke="#4f4f4f" stroke-width="2.4"/>
</g>
<g style="mix-blend-mode:darken" stroke-linejoin="round">
<use href="#B8" fill="#ffffff" stroke="#ffffff" stroke-width="72"/>
<use href="#B8" fill="#f5f5f5" stroke="#f5f5f5" stroke-width="64"/>
<use href="#B8" fill="#e6e6e6" stroke="#e6e6e6" stroke-width="56"/>
<use href="#B8" fill="#dcdcdc" stroke="#dcdcdc" stroke-width="49"/>
<use href="#B8" fill="#cfcfcf" stroke="#cfcfcf" stroke-width="42"/>
<use href="#B8" fill="#c0c0c0" stroke="#c0c0c0" stroke-width="36"/>
<use href="#B8" fill="#b1b1b1" stroke="#b1b1b1" stroke-width="30"/>
<use href="#B8" fill="#a2a2a2" stroke="#a2a2a2" stroke-width="25"/>
<use href="#B8" fill="#939393" stroke="#939393" stroke-width="20"/>
<use href="#B8" fill="#838383" stroke="#838383" stroke-width="16"/>
<use href="#B8" fill="#727272" stroke="#727272" stroke-width="12"/>
<use href="#B8" fill="#616161" stroke="#616161" stroke-width="9"/>
<use href="#B8" fill="#565656" stroke="#565656" stroke-width="6"/>
<use href="#B8" fill="#515151" stroke="#515151" stroke-width="3"/>
<use href="#B8" fill="#1a1a1a" stroke="none"/>
<use href="#B8" fill="none" stroke="#4f4f4f" stroke-width="2.4"/>
</g>
<g style="mix-blend-mode:darken" stroke-linejoin="round">
<use href="#B9" fill="#ffffff" stroke="#ffffff" stroke-width="72"/>
<use href="#B9" fill="#f5f5f5" stroke="#f5f5f5" stroke-width="64"/>
<use href="#B9" fill="#e6e6e6" stroke="#e6e6e6" stroke-width="56"/>
<use href="#B9" fill="#dcdcdc" stroke="#dcdcdc" stroke-width="49"/>
<use href="#B9" fill="#cfcfcf" stroke="#cfcfcf" stroke-width="42"/>
<use href="#B9" fill="#c0c0c0" stroke="#c0c0c0" stroke-width="36"/>
<use href="#B9" fill="#b1b1b1" stroke="#b1b1b1" stroke-width="30"/>
<use href="#B9" fill="#a2a2a2" stroke="#a2a2a2" stroke-width="25"/>
<use href="#B9" fill="#939393" stroke="#939393" stroke-width="20"/>
<use href="#B9" fill="#838383" stroke="#838383" stroke-width="16"/>
<use href="#B9" fill="#727272" stroke="#727272" stroke-width="12"/>
<use href="#B9" fill="#616161" stroke="#616161" stroke-width="9"/>
<use href="#B9" fill="#565656" stroke="#565656" stroke-width="6"/>
<use href="#B9" fill="#515151" stroke="#515151" stroke-width="3"/>
<use href="#B9" fill="#1a1a1a" stroke="none"/>
<use href="#B9" fill="none" stroke="#4f4f4f" stroke-width="2.4"/>
</g>
<g style="mix-blend-mode:darken" stroke-linejoin="round">
<use href="#B11" fill="#ffffff" stroke="#ffffff" stroke-width="72"/>
<use href="#B11" fill="#f5f5f5" stroke="#f5f5f5" stroke-width="64"/>
<use href="#B11" fill="#e6e6e6" stroke="#e6e6e6" stroke-width="56"/>
<use href="#B11" fill="#dcdcdc" stroke="#dcdcdc" stroke-width="49"/>
<use href="#B11" fill="#cfcfcf" stroke="#cfcfcf" stroke-width="42"/>
<use href="#B11" fill="#c0c0c0" stroke="#c0c0c0" stroke-width="36"/>
<use href="#B11" fill="#b1b1b1" stroke="#b1b1b1" stroke-width="30"/>
<use href="#B11" fill="#a2a2a2" stroke="#a2a2a2" stroke-width="25"/>
<use href="#B11" fill="#939393" stroke="#939393" stroke-width="20"/>
<use href="#B11" fill="#838383" stroke="#838383" stroke-width="16"/>
<use href="#B11" fill="#727272" stroke="#727272" stroke-width="12"/>
<use href="#B11" fill="#616161" stroke="#616161" stroke-width="9"/>
<use href="#B11" fill="#565656" stroke="#565656" stroke-width="6"/>
<use href="#B11" fill="#515151" stroke="#515151" stroke-width="3"/>
<use href="#B11" fill="#1a1a1a" stroke="none"/>
<use href="#B11" fill="none" stroke="#4f4f4f" stroke-width="2.4"/>
</g>
<g style="mix-blend-mode:darken" stroke-linejoin="round">
<use href="#B14" fill="#ffffff" stroke="#ffffff" stroke-width="72"/>
<use href="#B14" fill="#f5f5f5" stroke="#f5f5f5" stroke-width="64"/>
<use href="#B14" fill="#e6e6e6" stroke="#e6e6e6" stroke-width="56"/>
<use href="#B14" fill="#dcdcdc" stroke="#dcdcdc" stroke-width="49"/>
<use href="#B14" fill="#cfcfcf" stroke="#cfcfcf" stroke-width="42"/>
<use href="#B14" fill="#c0c0c0" stroke="#c0c0c0" stroke-width="36"/>
<use href="#B14" fill="#b1b1b1" stroke="#b1b1b1" stroke-width="30"/>
<use href="#B14" fill="#a2a2a2" stroke="#a2a2a2" stroke-width="25"/>
<use href="#B14" fill="#939393" stroke="#939393" stroke-width="20"/>
<use href="#B14" fill="#838383" stroke="#838383" stroke-width="16"/>
<use href="#B14" fill="#727272" stroke="#727272" stroke-width="12"/>
<use href="#B14" fill="#616161" stroke="#616161" stroke-width="9"/>
<use href="#B14" fill="#565656" stroke="#565656" stroke-width="6"/>
<use href="#B14" fill="#515151" stroke="#515151" stroke-width="3"/>
<use href="#B14" fill="#1a1a1a" stroke="none"/>
<use href="#B14" fill="none" stroke="#4f4f4f" stroke-width="2.4"/>
</g>
<g style="mix-blend-mode:darken" stroke-linejoin="round">
<use href="#B15" fill="#ffffff" stroke="#ffffff" stroke-width="72"/>
<use href="#B15" fill="#f5f5f5" stroke="#f5f5f5" stroke-width="64"/>
<use href="#B15" fill="#e6e6e6" stroke="#e6e6e6" stroke-width="56"/>
<use href="#B15" fill="#dcdcdc" stroke="#dcdcdc" stroke-width="49"/>
<use href="#B15" fill="#cfcfcf" stroke="#cfcfcf" stroke-width="42"/>
<use href="#B15" fill="#c0c0c0" stroke="#c0c0c0" stroke-width="36"/>
<use href="#B15" fill="#b1b1b1" stroke="#b1b1b1" stroke-width="30"/>
<use href="#B15" fill="#a2a2a2" stroke="#a2a2a2" stroke-width="25"/>
<use href="#B15" fill="#939393" stroke="#939393" stroke-width="20"/>
<use href="#B15" fill="#838383" stroke="#838383" stroke-width="16"/>
<use href="#B15" fill="#727272" stroke="#727272" stroke-width="12"/>
<use href="#B15" fill="#616161" stroke="#616161" stroke-width="9"/>
<use href="#B15" fill="#565656" stroke="#565656" stroke-width="6"/>
<use href="#B15" fill="#515151" stroke="#515151" stroke-width="3"/>
<use href="#B15" fill="#1a1a1a" stroke="none"/>
<use href="#B15" fill="none" stroke="#4f4f4f" stroke-width="2.4"/>
</g>
<g style="mix-blend-mode:darken" stroke-linejoin="round">
<use href="#BAND" fill="#ffffff" stroke="#ffffff" stroke-width="72"/>
<use href="#BAND" fill="#f5f5f5" stroke="#f5f5f5" stroke-width="64"/>
<use href="#BAND" fill="#e6e6e6" stroke="#e6e6e6" stroke-width="56"/>
<use href="#BAND" fill="#dcdcdc" stroke="#dcdcdc" stroke-width="49"/>
<use href="#BAND" fill="#cfcfcf" stroke="#cfcfcf" stroke-width="42"/>
<use href="#BAND" fill="#c0c0c0" stroke="#c0c0c0" stroke-width="36"/>
<use href="#BAND" fill="#b1b1b1" stroke="#b1b1b1" stroke-width="30"/>
<use href="#BAND" fill="#a2a2a2" stroke="#a2a2a2" stroke-width="25"/>
<use href="#BAND" fill="#939393" stroke="#939393" stroke-width="20"/>
<use href="#BAND" fill="#838383" stroke="#838383" stroke-width="16"/>
<use href="#BAND" fill="#727272" stroke="#727272" stroke-width="12"/>
<use href="#BAND" fill="#616161" stroke="#616161" stroke-width="9"/>
<use href="#BAND" fill="#565656" stroke="#565656" stroke-width="6"/>
<use href="#BAND" fill="#515151" stroke="#515151" stroke-width="3"/>
<use href="#BAND" fill="#1a1a1a" stroke="none"/>
<use href="#BAND" fill="none" stroke="#4f4f4f" stroke-width="2.4"/>
</g>
<g style="mix-blend-mode:darken" stroke-linejoin="round">
<use href="#TOP1" fill="#ffffff" stroke="#ffffff" stroke-width="72"/>
<use href="#TOP1" fill="#f5f5f5" stroke="#f5f5f5" stroke-width="64"/>
<use href="#TOP1" fill="#e6e6e6" stroke="#e6e6e6" stroke-width="56"/>
<use href="#TOP1" fill="#dcdcdc" stroke="#dcdcdc" stroke-width="49"/>
<use href="#TOP1" fill="#cfcfcf" stroke="#cfcfcf" stroke-width="42"/>
<use href="#TOP1" fill="#c0c0c0" stroke="#c0c0c0" stroke-width="36"/>
<use href="#TOP1" fill="#b1b1b1" stroke="#b1b1b1" stroke-width="30"/>
<use href="#TOP1" fill="#a2a2a2" stroke="#a2a2a2" stroke-width="25"/>
<use href="#TOP1" fill="#939393" stroke="#939393" stroke-width="20"/>
<use href="#TOP1" fill="#838383" stroke="#838383" stroke-width="16"/>
<use href="#TOP1" fill="#727272" stroke="#727272" stroke-width="12"/>
<use href="#TOP1" fill="#616161" stroke="#616161" stroke-width="9"/>
<use href="#TOP1" fill="#565656" stroke="#565656" stroke-width="6"/>
<use href="#TOP1" fill="#515151" stroke="#515151" stroke-width="3"/>
<use href="#TOP1" fill="#1a1a1a" stroke="none"/>
<use href="#TOP1" fill="none" stroke="#4f4f4f" stroke-width="2.4"/>
</g>
<g style="mix-blend-mode:darken" stroke-linejoin="round">
<use href="#TOP2" fill="#ffffff" stroke="#ffffff" stroke-width="72"/>
<use href="#TOP2" fill="#fcfcfc" stroke="#fcfcfc" stroke-width="64"/>
<use href="#TOP2" fill="#efefef" stroke="#efefef" stroke-width="56"/>
<use href="#TOP2" fill="#e2e2e2" stroke="#e2e2e2" stroke-width="49"/>
<use href="#TOP2" fill="#d8d8d8" stroke="#d8d8d8" stroke-width="42"/>
<use href="#TOP2" fill="#cbcbcb" stroke="#cbcbcb" stroke-width="36"/>
<use href="#TOP2" fill="#bcbcbc" stroke="#bcbcbc" stroke-width="30"/>
<use href="#TOP2" fill="#aeaeae" stroke="#aeaeae" stroke-width="25"/>
<use href="#TOP2" fill="#a1a1a1" stroke="#a1a1a1" stroke-width="20"/>
<use href="#TOP2" fill="#939393" stroke="#939393" stroke-width="16"/>
<use href="#TOP2" fill="#858585" stroke="#858585" stroke-width="12"/>
<use href="#TOP2" fill="#787878" stroke="#787878" stroke-width="9"/>
<use href="#TOP2" fill="#666666" stroke="#666666" stroke-width="6"/>
<use href="#TOP2" fill="#585858" stroke="#585858" stroke-width="3"/>
<use href="#TOP2" fill="#565656" stroke="none"/>
</g>
<g style="mix-blend-mode:darken" stroke-linejoin="round">
<use href="#B16" fill="#ffffff" stroke="#ffffff" stroke-width="72"/>
<use href="#B16" fill="#f5f5f5" stroke="#f5f5f5" stroke-width="64"/>
<use href="#B16" fill="#e6e6e6" stroke="#e6e6e6" stroke-width="56"/>
<use href="#B16" fill="#dcdcdc" stroke="#dcdcdc" stroke-width="49"/>
<use href="#B16" fill="#cfcfcf" stroke="#cfcfcf" stroke-width="42"/>
<use href="#B16" fill="#c0c0c0" stroke="#c0c0c0" stroke-width="36"/>
<use href="#B16" fill="#b1b1b1" stroke="#b1b1b1" stroke-width="30"/>
<use href="#B16" fill="#a2a2a2" stroke="#a2a2a2" stroke-width="25"/>
<use href="#B16" fill="#939393" stroke="#939393" stroke-width="20"/>
<use href="#B16" fill="#838383" stroke="#838383" stroke-width="16"/>
<use href="#B16" fill="#727272" stroke="#727272" stroke-width="12"/>
<use href="#B16" fill="#616161" stroke="#616161" stroke-width="9"/>
<use href="#B16" fill="#565656" stroke="#565656" stroke-width="6"/>
<use href="#B16" fill="#515151" stroke="#515151" stroke-width="3"/>
<use href="#B16" fill="#1a1a1a" stroke="none"/>
<use href="#B16" fill="none" stroke="#4f4f4f" stroke-width="2.4"/>
</g>
<g style="mix-blend-mode:darken" stroke-linejoin="round">
<use href="#B18" fill="#ffffff" stroke="#ffffff" stroke-width="72"/>
<use href="#B18" fill="#f5f5f5" stroke="#f5f5f5" stroke-width="64"/>
<use href="#B18" fill="#e6e6e6" stroke="#e6e6e6" stroke-width="56"/>
<use href="#B18" fill="#dcdcdc" stroke="#dcdcdc" stroke-width="49"/>
<use href="#B18" fill="#cfcfcf" stroke="#cfcfcf" stroke-width="42"/>
<use href="#B18" fill="#c0c0c0" stroke="#c0c0c0" stroke-width="36"/>
<use href="#B18" fill="#b1b1b1" stroke="#b1b1b1" stroke-width="30"/>
<use href="#B18" fill="#a2a2a2" stroke="#a2a2a2" stroke-width="25"/>
<use href="#B18" fill="#939393" stroke="#939393" stroke-width="20"/>
<use href="#B18" fill="#838383" stroke="#838383" stroke-width="16"/>
<use href="#B18" fill="#727272" stroke="#727272" stroke-width="12"/>
<use href="#B18" fill="#616161" stroke="#616161" stroke-width="9"/>
<use href="#B18" fill="#565656" stroke="#565656" stroke-width="6"/>
<use href="#B18" fill="#515151" stroke="#515151" stroke-width="3"/>
<use href="#B18" fill="#1a1a1a" stroke="none"/>
<use href="#B18" fill="none" stroke="#4f4f4f" stroke-width="2.4"/>
</g>
<g style="mix-blend-mode:darken" stroke-linejoin="round">
<use href="#B19" fill="#ffffff" stroke="#ffffff" stroke-width="72"/>
<use href="#B19" fill="#f5f5f5" stroke="#f5f5f5" stroke-width="64"/>
<use href="#B19" fill="#e6e6e6" stroke="#e6e6e6" stroke-width="56"/>
<use href="#B19" fill="#dcdcdc" stroke="#dcdcdc" stroke-width="49"/>
<use href="#B19" fill="#cfcfcf" stroke="#cfcfcf" stroke-width="42"/>
<use href="#B19" fill="#c0c0c0" stroke="#c0c0c0" stroke-width="36"/>
<use href="#B19" fill="#b1b1b1" stroke="#b1b1b1" stroke-width="30"/>
<use href="#B19" fill="#a2a2a2" stroke="#a2a2a2" stroke-width="25"/>
<use href="#B19" fill="#939393" stroke="#939393" stroke-width="20"/>
<use href="#B19" fill="#838383" stroke="#838383" stroke-width="16"/>
<use href="#B19" fill="#727272" stroke="#727272" stroke-width="12"/>
<use href="#B19" fill="#616161" stroke="#616161" stroke-width="9"/>
<use href="#B19" fill="#565656" stroke="#565656" stroke-width="6"/>
<use href="#B19" fill="#515151" stroke="#515151" stroke-width="3"/>
<use href="#B19" fill="#1a1a1a" stroke="none"/>
<use href="#B19" fill="none" stroke="#4f4f4f" stroke-width="2.4"/>
</g>
<g style="mix-blend-mode:darken" stroke-linejoin="round">
<use href="#B12" fill="#ffffff" stroke="#ffffff" stroke-width="72"/>
<use href="#B12" fill="#f5f5f5" stroke="#f5f5f5" stroke-width="64"/>
<use href="#B12" fill="#e6e6e6" stroke="#e6e6e6" stroke-width="56"/>
<use href="#B12" fill="#dcdcdc" stroke="#dcdcdc" stroke-width="49"/>
<use href="#B12" fill="#cfcfcf" stroke="#cfcfcf" stroke-width="42"/>
<use href="#B12" fill="#c0c0c0" stroke="#c0c0c0" stroke-width="36"/>
<use href="#B12" fill="#b1b1b1" stroke="#b1b1b1" stroke-width="30"/>
<use href="#B12" fill="#a2a2a2" stroke="#a2a2a2" stroke-width="25"/>
<use href="#B12" fill="#939393" stroke="#939393" stroke-width="20"/>
<use href="#B12" fill="#838383" stroke="#838383" stroke-width="16"/>
<use href="#B12" fill="#727272" stroke="#727272" stroke-width="12"/>
<use href="#B12" fill="#616161" stroke="#616161" stroke-width="9"/>
<use href="#B12" fill="#565656" stroke="#565656" stroke-width="6"/>
<use href="#B12" fill="#515151" stroke="#515151" stroke-width="3"/>
<use href="#B12" fill="#1a1a1a" stroke="none"/>
<use href="#B12" fill="none" stroke="#4f4f4f" stroke-width="2.4"/>
</g>
<g style="mix-blend-mode:darken" stroke-linejoin="round">
<use href="#B20" fill="#ffffff" stroke="#ffffff" stroke-width="72"/>
<use href="#B20" fill="#f5f5f5" stroke="#f5f5f5" stroke-width="64"/>
<use href="#B20" fill="#e6e6e6" stroke="#e6e6e6" stroke-width="56"/>
<use href="#B20" fill="#dcdcdc" stroke="#dcdcdc" stroke-width="49"/>
<use href="#B20" fill="#cfcfcf" stroke="#cfcfcf" stroke-width="42"/>
<use href="#B20" fill="#c0c0c0" stroke="#c0c0c0" stroke-width="36"/>
<use href="#B20" fill="#b1b1b1" stroke="#b1b1b1" stroke-width="30"/>
<use href="#B20" fill="#a2a2a2" stroke="#a2a2a2" stroke-width="25"/>
<use href="#B20" fill="#939393" stroke="#939393" stroke-width="20"/>
<use href="#B20" fill="#838383" stroke="#838383" stroke-width="16"/>
<use href="#B20" fill="#727272" stroke="#727272" stroke-width="12"/>
<use href="#B20" fill="#616161" stroke="#616161" stroke-width="9"/>
<use href="#B20" fill="#565656" stroke="#565656" stroke-width="6"/>
<use href="#B20" fill="#515151" stroke="#515151" stroke-width="3"/>
<use href="#B20" fill="#1a1a1a" stroke="none"/>
<use href="#B20" fill="none" stroke="#4f4f4f" stroke-width="2.4"/>
</g>
<g style="mix-blend-mode:darken" stroke-linejoin="round">
<use href="#B13" fill="#ffffff" stroke="#ffffff" stroke-width="72"/>
<use href="#B13" fill="#f5f5f5" stroke="#f5f5f5" stroke-width="64"/>
<use href="#B13" fill="#e6e6e6" stroke="#e6e6e6" stroke-width="56"/>
<use href="#B13" fill="#dcdcdc" stroke="#dcdcdc" stroke-width="49"/>
<use href="#B13" fill="#cfcfcf" stroke="#cfcfcf" stroke-width="42"/>
<use href="#B13" fill="#c0c0c0" stroke="#c0c0c0" stroke-width="36"/>
<use href="#B13" fill="#b1b1b1" stroke="#b1b1b1" stroke-width="30"/>
<use href="#B13" fill="#a2a2a2" stroke="#a2a2a2" stroke-width="25"/>
<use href="#B13" fill="#939393" stroke="#939393" stroke-width="20"/>
<use href="#B13" fill="#838383" stroke="#838383" stroke-width="16"/>
<use href="#B13" fill="#727272" stroke="#727272" stroke-width="12"/>
<use href="#B13" fill="#616161" stroke="#616161" stroke-width="9"/>
<use href="#B13" fill="#565656" stroke="#565656" stroke-width="6"/>
<use href="#B13" fill="#515151" stroke="#515151" stroke-width="3"/>
<use href="#B13" fill="#1a1a1a" stroke="none"/>
<use href="#B13" fill="none" stroke="#4f4f4f" stroke-width="2.4"/>
</g>
<g style="mix-blend-mode:darken" stroke-linejoin="round">
<use href="#B21" fill="#ffffff" stroke="#ffffff" stroke-width="72"/>
<use href="#B21" fill="#f5f5f5" stroke="#f5f5f5" stroke-width="64"/>
<use href="#B21" fill="#e6e6e6" stroke="#e6e6e6" stroke-width="56"/>
<use href="#B21" fill="#dcdcdc" stroke="#dcdcdc" stroke-width="49"/>
<use href="#B21" fill="#cfcfcf" stroke="#cfcfcf" stroke-width="42"/>
<use href="#B21" fill="#c0c0c0" stroke="#c0c0c0" stroke-width="36"/>
<use href="#B21" fill="#b1b1b1" stroke="#b1b1b1" stroke-width="30"/>
<use href="#B21" fill="#a2a2a2" stroke="#a2a2a2" stroke-width="25"/>
<use href="#B21" fill="#939393" stroke="#939393" stroke-width="20"/>
<use href="#B21" fill="#838383" stroke="#838383" stroke-width="16"/>
<use href="#B21" fill="#727272" stroke="#727272" stroke-width="12"/>
<use href="#B21" fill="#616161" stroke="#616161" stroke-width="9"/>
<use href="#B21" fill="#565656" stroke="#565656" stroke-width="6"/>
<use href="#B21" fill="#515151" stroke="#515151" stroke-width="3"/>
<use href="#B21" fill="#1a1a1a" stroke="none"/>
<use href="#B21" fill="none" stroke="#4f4f4f" stroke-width="2.4"/>
</g>
<g style="mix-blend-mode:darken" stroke-linejoin="round">
<use href="#B22" fill="#ffffff" stroke="#ffffff" stroke-width="64"/>
<use href="#B22" fill="#fafafa" stroke="#fafafa" stroke-width="56"/>
<use href="#B22" fill="#ebebeb" stroke="#ebebeb" stroke-width="49"/>
<use href="#B22" fill="#dedede" stroke="#dedede" stroke-width="42"/>
<use href="#B22" fill="#d0d0d0" stroke="#d0d0d0" stroke-width="36"/>
<use href="#B22" fill="#c0c0c0" stroke="#c0c0c0" stroke-width="30"/>
<use href="#B22" fill="#b0b0b0" stroke="#b0b0b0" stroke-width="25"/>
<use href="#B22" fill="#9f9f9f" stroke="#9f9f9f" stroke-width="20"/>
<use href="#B22" fill="#8f8f8f" stroke="#8f8f8f" stroke-width="16"/>
<use href="#B22" fill="#7d7d7d" stroke="#7d7d7d" stroke-width="12"/>
<use href="#B22" fill="#696969" stroke="#696969" stroke-width="9"/>
<use href="#B22" fill="#585858" stroke="#585858" stroke-width="6"/>
<use href="#B22" fill="#515151" stroke="#515151" stroke-width="3"/>
<use href="#B22" fill="#1a1a1a" stroke="none"/>
<use href="#B22" fill="none" stroke="#4f4f4f" stroke-width="2.4"/>
</g>
<g style="mix-blend-mode:darken" stroke-linejoin="round">
<use href="#B23" fill="#ffffff" stroke="#ffffff" stroke-width="64"/>
<use href="#B23" fill="#f4f4f4" stroke="#f4f4f4" stroke-width="56"/>
<use href="#B23" fill="#e4e4e4" stroke="#e4e4e4" stroke-width="49"/>
<use href="#B23" fill="#d9d9d9" stroke="#d9d9d9" stroke-width="42"/>
<use href="#B23" fill="#cacaca" stroke="#cacaca" stroke-width="36"/>
<use href="#B23" fill="#bbbbbb" stroke="#bbbbbb" stroke-width="30"/>
<use href="#B23" fill="#aaaaaa" stroke="#aaaaaa" stroke-width="25"/>
<use href="#B23" fill="#9a9a9a" stroke="#9a9a9a" stroke-width="20"/>
<use href="#B23" fill="#8a8a8a" stroke="#8a8a8a" stroke-width="16"/>
<use href="#B23" fill="#797979" stroke="#797979" stroke-width="12"/>
<use href="#B23" fill="#666666" stroke="#666666" stroke-width="9"/>
<use href="#B23" fill="#585858" stroke="#585858" stroke-width="6"/>
<use href="#B23" fill="#515151" stroke="#515151" stroke-width="3"/>
<use href="#B23" fill="#1a1a1a" stroke="none"/>
<use href="#B23" fill="none" stroke="#4f4f4f" stroke-width="2.4"/>
</g>
<g style="mix-blend-mode:darken" stroke-linejoin="round">
<use href="#B25" fill="#ffffff" stroke="#ffffff" stroke-width="72"/>
<use href="#B25" fill="#f5f5f5" stroke="#f5f5f5" stroke-width="64"/>
<use href="#B25" fill="#e6e6e6" stroke="#e6e6e6" stroke-width="56"/>
<use href="#B25" fill="#dcdcdc" stroke="#dcdcdc" stroke-width="49"/>
<use href="#B25" fill="#cfcfcf" stroke="#cfcfcf" stroke-width="42"/>
<use href="#B25" fill="#c0c0c0" stroke="#c0c0c0" stroke-width="36"/>
<use href="#B25" fill="#b1b1b1" stroke="#b1b1b1" stroke-width="30"/>
<use href="#B25" fill="#a2a2a2" stroke="#a2a2a2" stroke-width="25"/>
<use href="#B25" fill="#939393" stroke="#939393" stroke-width="20"/>
<use href="#B25" fill="#838383" stroke="#838383" stroke-width="16"/>
<use href="#B25" fill="#727272" stroke="#727272" stroke-width="12"/>
<use href="#B25" fill="#616161" stroke="#616161" stroke-width="9"/>
<use href="#B25" fill="#565656" stroke="#565656" stroke-width="6"/>
<use href="#B25" fill="#515151" stroke="#515151" stroke-width="3"/>
<use href="#B25" fill="#1a1a1a" stroke="none"/>
<use href="#B25" fill="none" stroke="#4f4f4f" stroke-width="2.4"/>
</g>
<g style="mix-blend-mode:darken" stroke-linejoin="round">
<use href="#B26" fill="#ffffff" stroke="#ffffff" stroke-width="72"/>
<use href="#B26" fill="#f5f5f5" stroke="#f5f5f5" stroke-width="64"/>
<use href="#B26" fill="#e6e6e6" stroke="#e6e6e6" stroke-width="56"/>
<use href="#B26" fill="#dcdcdc" stroke="#dcdcdc" stroke-width="49"/>
<use href="#B26" fill="#cfcfcf" stroke="#cfcfcf" stroke-width="42"/>
<use href="#B26" fill="#c0c0c0" stroke="#c0c0c0" stroke-width="36"/>
<use href="#B26" fill="#b1b1b1" stroke="#b1b1b1" stroke-width="30"/>
<use href="#B26" fill="#a2a2a2" stroke="#a2a2a2" stroke-width="25"/>
<use href="#B26" fill="#939393" stroke="#939393" stroke-width="20"/>
<use href="#B26" fill="#838383" stroke="#838383" stroke-width="16"/>
<use href="#B26" fill="#727272" stroke="#727272" stroke-width="12"/>
<use href="#B26" fill="#616161" stroke="#616161" stroke-width="9"/>
<use href="#B26" fill="#565656" stroke="#565656" stroke-width="6"/>
<use href="#B26" fill="#515151" stroke="#515151" stroke-width="3"/>
<use href="#B26" fill="#1a1a1a" stroke="none"/>
<use href="#B26" fill="none" stroke="#4f4f4f" stroke-width="2.4"/>
</g>
<g style="mix-blend-mode:darken" stroke-linejoin="round">
<use href="#B27" fill="#ffffff" stroke="#ffffff" stroke-width="72"/>
<use href="#B27" fill="#f5f5f5" stroke="#f5f5f5" stroke-width="64"/>
<use href="#B27" fill="#e6e6e6" stroke="#e6e6e6" stroke-width="56"/>
<use href="#B27" fill="#dcdcdc" stroke="#dcdcdc" stroke-width="49"/>
<use href="#B27" fill="#cfcfcf" stroke="#cfcfcf" stroke-width="42"/>
<use href="#B27" fill="#c0c0c0" stroke="#c0c0c0" stroke-width="36"/>
<use href="#B27" fill="#b1b1b1" stroke="#b1b1b1" stroke-width="30"/>
<use href="#B27" fill="#a2a2a2" stroke="#a2a2a2" stroke-width="25"/>
<use href="#B27" fill="#939393" stroke="#939393" stroke-width="20"/>
<use href="#B27" fill="#838383" stroke="#838383" stroke-width="16"/>
<use href="#B27" fill="#727272" stroke="#727272" stroke-width="12"/>
<use href="#B27" fill="#616161" stroke="#616161" stroke-width="9"/>
<use href="#B27" fill="#565656" stroke="#565656" stroke-width="6"/>
<use href="#B27" fill="#515151" stroke="#515151" stroke-width="3"/>
<use href="#B27" fill="#1a1a1a" stroke="none"/>
<use href="#B27" fill="none" stroke="#4f4f4f" stroke-width="2.4"/>
</g>
<g style="mix-blend-mode:darken" stroke-linejoin="round">
<use href="#B28" fill="#ffffff" stroke="#ffffff" stroke-width="72"/>
<use href="#B28" fill="#f5f5f5" stroke="#f5f5f5" stroke-width="64"/>
<use href="#B28" fill="#e6e6e6" stroke="#e6e6e6" stroke-width="56"/>
<use href="#B28" fill="#dcdcdc" stroke="#dcdcdc" stroke-width="49"/>
<use href="#B28" fill="#cfcfcf" stroke="#cfcfcf" stroke-width="42"/>
<use href="#B28" fill="#c0c0c0" stroke="#c0c0c0" stroke-width="36"/>
<use href="#B28" fill="#b1b1b1" stroke="#b1b1b1" stroke-width="30"/>
<use href="#B28" fill="#a2a2a2" stroke="#a2a2a2" stroke-width="25"/>
<use href="#B28" fill="#939393" stroke="#939393" stroke-width="20"/>
<use href="#B28" fill="#838383" stroke="#838383" stroke-width="16"/>
<use href="#B28" fill="#727272" stroke="#727272" stroke-width="12"/>
<use href="#B28" fill="#616161" stroke="#616161" stroke-width="9"/>
<use href="#B28" fill="#565656" stroke="#565656" stroke-width="6"/>
<use href="#B28" fill="#515151" stroke="#515151" stroke-width="3"/>
<use href="#B28" fill="#1a1a1a" stroke="none"/>
<use href="#B28" fill="none" stroke="#4f4f4f" stroke-width="2.4"/>
</g>
<g style="mix-blend-mode:darken" stroke-linejoin="round">
<use href="#RE" fill="#ffffff" stroke="#ffffff" stroke-width="72"/>
<use href="#RE" fill="#f5f5f5" stroke="#f5f5f5" stroke-width="64"/>
<use href="#RE" fill="#e6e6e6" stroke="#e6e6e6" stroke-width="56"/>
<use href="#RE" fill="#dcdcdc" stroke="#dcdcdc" stroke-width="49"/>
<use href="#RE" fill="#cfcfcf" stroke="#cfcfcf" stroke-width="42"/>
<use href="#RE" fill="#c0c0c0" stroke="#c0c0c0" stroke-width="36"/>
<use href="#RE" fill="#b1b1b1" stroke="#b1b1b1" stroke-width="30"/>
<use href="#RE" fill="#a2a2a2" stroke="#a2a2a2" stroke-width="25"/>
<use href="#RE" fill="#939393" stroke="#939393" stroke-width="20"/>
<use href="#RE" fill="#838383" stroke="#838383" stroke-width="16"/>
<use href="#RE" fill="#727272" stroke="#727272" stroke-width="12"/>
<use href="#RE" fill="#616161" stroke="#616161" stroke-width="9"/>
<use href="#RE" fill="#565656" stroke="#565656" stroke-width="6"/>
<use href="#RE" fill="#515151" stroke="#515151" stroke-width="3"/>
<use href="#RE" fill="#1a1a1a" stroke="none"/>
<use href="#RE" fill="none" stroke="#4f4f4f" stroke-width="2.4"/>
</g>
<g style="mix-blend-mode:darken" stroke-linejoin="round">
<use href="#br1" fill="#ffffff" stroke="#ffffff" stroke-width="72"/>
<use href="#br1" fill="#f7f7f7" stroke="#f7f7f7" stroke-width="64"/>
<use href="#br1" fill="#e8e8e8" stroke="#e8e8e8" stroke-width="56"/>
<use href="#br1" fill="#dedede" stroke="#dedede" stroke-width="49"/>
<use href="#br1" fill="#d1d1d1" stroke="#d1d1d1" stroke-width="42"/>
<use href="#br1" fill="#c3c3c3" stroke="#c3c3c3" stroke-width="36"/>
<use href="#br1" fill="#b4b4b4" stroke="#b4b4b4" stroke-width="30"/>
<use href="#br1" fill="#a5a5a5" stroke="#a5a5a5" stroke-width="25"/>
<use href="#br1" fill="#969696" stroke="#969696" stroke-width="20"/>
<use href="#br1" fill="#878787" stroke="#878787" stroke-width="16"/>
<use href="#br1" fill="#787878" stroke="#787878" stroke-width="12"/>
<use href="#br1" fill="#666666" stroke="#666666" stroke-width="9"/>
<use href="#br1" fill="#585858" stroke="#585858" stroke-width="6"/>
<use href="#br1" fill="#535353" stroke="#535353" stroke-width="3"/>
<use href="#br1" fill="#505050" stroke="none"/>
</g>
<g style="mix-blend-mode:darken" stroke-linejoin="round">
<use href="#br2" fill="#ffffff" stroke="#ffffff" stroke-width="72"/>
<use href="#br2" fill="#fafafa" stroke="#fafafa" stroke-width="64"/>
<use href="#br2" fill="#ededed" stroke="#ededed" stroke-width="56"/>
<use href="#br2" fill="#e1e1e1" stroke="#e1e1e1" stroke-width="49"/>
<use href="#br2" fill="#d6d6d6" stroke="#d6d6d6" stroke-width="42"/>
<use href="#br2" fill="#c8c8c8" stroke="#c8c8c8" stroke-width="36"/>
<use href="#br2" fill="#bababa" stroke="#bababa" stroke-width="30"/>
<use href="#br2" fill="#ababab" stroke="#ababab" stroke-width="25"/>
<use href="#br2" fill="#9d9d9d" stroke="#9d9d9d" stroke-width="20"/>
<use href="#br2" fill="#8f8f8f" stroke="#8f8f8f" stroke-width="16"/>
<use href="#br2" fill="#818181" stroke="#818181" stroke-width="12"/>
<use href="#br2" fill="#727272" stroke="#727272" stroke-width="9"/>
<use href="#br2" fill="#616161" stroke="#616161" stroke-width="6"/>
<use href="#br2" fill="#565656" stroke="#565656" stroke-width="3"/>
<use href="#br2" fill="#545454" stroke="none"/>
</g>
<g style="mix-blend-mode:darken" stroke-linejoin="round">
<use href="#br3" fill="#ffffff" stroke="#ffffff" stroke-width="64"/>
<use href="#br3" fill="#f8f8f8" stroke="#f8f8f8" stroke-width="56"/>
<use href="#br3" fill="#eaeaea" stroke="#eaeaea" stroke-width="49"/>
<use href="#br3" fill="#e0e0e0" stroke="#e0e0e0" stroke-width="42"/>
<use href="#br3" fill="#d6d6d6" stroke="#d6d6d6" stroke-width="36"/>
<use href="#br3" fill="#c9c9c9" stroke="#c9c9c9" stroke-width="30"/>
<use href="#br3" fill="#bcbcbc" stroke="#bcbcbc" stroke-width="25"/>
<use href="#br3" fill="#b0b0b0" stroke="#b0b0b0" stroke-width="20"/>
<use href="#br3" fill="#a4a4a4" stroke="#a4a4a4" stroke-width="16"/>
<use href="#br3" fill="#989898" stroke="#989898" stroke-width="12"/>
<use href="#br3" fill="#8d8d8d" stroke="#8d8d8d" stroke-width="9"/>
<use href="#br3" fill="#818181" stroke="#818181" stroke-width="6"/>
<use href="#br3" fill="#727272" stroke="#727272" stroke-width="3"/>
<use href="#br3" fill="#696969" stroke="none"/>
</g>
<g style="mix-blend-mode:darken" stroke-linejoin="round">
<use href="#br4" fill="#ffffff" stroke="#ffffff" stroke-width="72"/>
<use href="#br4" fill="#f9f9f9" stroke="#f9f9f9" stroke-width="64"/>
<use href="#br4" fill="#eaeaea" stroke="#eaeaea" stroke-width="56"/>
<use href="#br4" fill="#dfdfdf" stroke="#dfdfdf" stroke-width="49"/>
<use href="#br4" fill="#d3d3d3" stroke="#d3d3d3" stroke-width="42"/>
<use href="#br4" fill="#c5c5c5" stroke="#c5c5c5" stroke-width="36"/>
<use href="#br4" fill="#b7b7b7" stroke="#b7b7b7" stroke-width="30"/>
<use href="#br4" fill="#a8a8a8" stroke="#a8a8a8" stroke-width="25"/>
<use href="#br4" fill="#9a9a9a" stroke="#9a9a9a" stroke-width="20"/>
<use href="#br4" fill="#8b8b8b" stroke="#8b8b8b" stroke-width="16"/>
<use href="#br4" fill="#7d7d7d" stroke="#7d7d7d" stroke-width="12"/>
<use href="#br4" fill="#6c6c6c" stroke="#6c6c6c" stroke-width="9"/>
<use href="#br4" fill="#5c5c5c" stroke="#5c5c5c" stroke-width="6"/>
<use href="#br4" fill="#555555" stroke="#555555" stroke-width="3"/>
<use href="#br4" fill="#525252" stroke="none"/>
</g>
<g style="mix-blend-mode:darken" stroke-linejoin="round">
<use href="#br5" fill="#ffffff" stroke="#ffffff" stroke-width="72"/>
<use href="#br5" fill="#fcfcfc" stroke="#fcfcfc" stroke-width="64"/>
<use href="#br5" fill="#efefef" stroke="#efefef" stroke-width="56"/>
<use href="#br5" fill="#e2e2e2" stroke="#e2e2e2" stroke-width="49"/>
<use href="#br5" fill="#d8d8d8" stroke="#d8d8d8" stroke-width="42"/>
<use href="#br5" fill="#cbcbcb" stroke="#cbcbcb" stroke-width="36"/>
<use href="#br5" fill="#bcbcbc" stroke="#bcbcbc" stroke-width="30"/>
<use href="#br5" fill="#aeaeae" stroke="#aeaeae" stroke-width="25"/>
<use href="#br5" fill="#a1a1a1" stroke="#a1a1a1" stroke-width="20"/>
<use href="#br5" fill="#939393" stroke="#939393" stroke-width="16"/>
<use href="#br5" fill="#858585" stroke="#858585" stroke-width="12"/>
<use href="#br5" fill="#787878" stroke="#787878" stroke-width="9"/>
<use href="#br5" fill="#666666" stroke="#666666" stroke-width="6"/>
<use href="#br5" fill="#585858" stroke="#585858" stroke-width="3"/>
<use href="#br5" fill="#565656" stroke="none"/>
</g>
<g style="mix-blend-mode:darken" stroke-linejoin="round">
<use href="#br6" fill="#ffffff" stroke="#ffffff" stroke-width="64"/>
<use href="#br6" fill="#fdfdfd" stroke="#fdfdfd" stroke-width="56"/>
<use href="#br6" fill="#f1f1f1" stroke="#f1f1f1" stroke-width="49"/>
<use href="#br6" fill="#e4e4e4" stroke="#e4e4e4" stroke-width="42"/>
<use href="#br6" fill="#dbdbdb" stroke="#dbdbdb" stroke-width="36"/>
<use href="#br6" fill="#d0d0d0" stroke="#d0d0d0" stroke-width="30"/>
<use href="#br6" fill="#c4c4c4" stroke="#c4c4c4" stroke-width="25"/>
<use href="#br6" fill="#b9b9b9" stroke="#b9b9b9" stroke-width="20"/>
<use href="#br6" fill="#adadad" stroke="#adadad" stroke-width="16"/>
<use href="#br6" fill="#a2a2a2" stroke="#a2a2a2" stroke-width="12"/>
<use href="#br6" fill="#989898" stroke="#989898" stroke-width="9"/>
<use href="#br6" fill="#8d8d8d" stroke="#8d8d8d" stroke-width="6"/>
<use href="#br6" fill="#818181" stroke="#818181" stroke-width="3"/>
<use href="#br6" fill="#7b7b7b" stroke="none"/>
</g>
<g style="mix-blend-mode:darken" stroke-linejoin="round">
<use href="#br21" fill="#ffffff" stroke="#ffffff" stroke-width="56"/>
<use href="#br21" fill="#f8f8f8" stroke="#f8f8f8" stroke-width="49"/>
<use href="#br21" fill="#ebebeb" stroke="#ebebeb" stroke-width="42"/>
<use href="#br21" fill="#e1e1e1" stroke="#e1e1e1" stroke-width="36"/>
<use href="#br21" fill="#d9d9d9" stroke="#d9d9d9" stroke-width="30"/>
<use href="#br21" fill="#cecece" stroke="#cecece" stroke-width="25"/>
<use href="#br21" fill="#c3c3c3" stroke="#c3c3c3" stroke-width="20"/>
<use href="#br21" fill="#b9b9b9" stroke="#b9b9b9" stroke-width="16"/>
<use href="#br21" fill="#aeaeae" stroke="#aeaeae" stroke-width="12"/>
<use href="#br21" fill="#a5a5a5" stroke="#a5a5a5" stroke-width="9"/>
<use href="#br21" fill="#9b9b9b" stroke="#9b9b9b" stroke-width="6"/>
<use href="#br21" fill="#919191" stroke="#919191" stroke-width="3"/>
<use href="#br21" fill="#8b8b8b" stroke="none"/>
</g>
<g style="mix-blend-mode:darken" stroke-linejoin="round">
<use href="#br22" fill="#ffffff" stroke="#ffffff" stroke-width="56"/>
<use href="#br22" fill="#fbfbfb" stroke="#fbfbfb" stroke-width="49"/>
<use href="#br22" fill="#f0f0f0" stroke="#f0f0f0" stroke-width="42"/>
<use href="#br22" fill="#e4e4e4" stroke="#e4e4e4" stroke-width="36"/>
<use href="#br22" fill="#dcdcdc" stroke="#dcdcdc" stroke-width="30"/>
<use href="#br22" fill="#d2d2d2" stroke="#d2d2d2" stroke-width="25"/>
<use href="#br22" fill="#c8c8c8" stroke="#c8c8c8" stroke-width="20"/>
<use href="#br22" fill="#bebebe" stroke="#bebebe" stroke-width="16"/>
<use href="#br22" fill="#b4b4b4" stroke="#b4b4b4" stroke-width="12"/>
<use href="#br22" fill="#ababab" stroke="#ababab" stroke-width="9"/>
<use href="#br22" fill="#a2a2a2" stroke="#a2a2a2" stroke-width="6"/>
<use href="#br22" fill="#989898" stroke="#989898" stroke-width="3"/>
<use href="#br22" fill="#939393" stroke="none"/>
</g>
<g style="mix-blend-mode:darken" stroke-linejoin="round">
<use href="#br7" fill="#ffffff" stroke="#ffffff" stroke-width="56"/>
<use href="#br7" fill="#f6f6f6" stroke="#f6f6f6" stroke-width="49"/>
<use href="#br7" fill="#e9e9e9" stroke="#e9e9e9" stroke-width="42"/>
<use href="#br7" fill="#e0e0e0" stroke="#e0e0e0" stroke-width="36"/>
<use href="#br7" fill="#d7d7d7" stroke="#d7d7d7" stroke-width="30"/>
<use href="#br7" fill="#cccccc" stroke="#cccccc" stroke-width="25"/>
<use href="#br7" fill="#c0c0c0" stroke="#c0c0c0" stroke-width="20"/>
<use href="#br7" fill="#b6b6b6" stroke="#b6b6b6" stroke-width="16"/>
<use href="#br7" fill="#ababab" stroke="#ababab" stroke-width="12"/>
<use href="#br7" fill="#a2a2a2" stroke="#a2a2a2" stroke-width="9"/>
<use href="#br7" fill="#989898" stroke="#989898" stroke-width="6"/>
<use href="#br7" fill="#8d8d8d" stroke="#8d8d8d" stroke-width="3"/>
<use href="#br7" fill="#878787" stroke="none"/>
</g>
<g style="mix-blend-mode:darken" stroke-linejoin="round">
<use href="#br10" fill="#ffffff" stroke="#ffffff" stroke-width="64"/>
<use href="#br10" fill="#fdfdfd" stroke="#fdfdfd" stroke-width="56"/>
<use href="#br10" fill="#f1f1f1" stroke="#f1f1f1" stroke-width="49"/>
<use href="#br10" fill="#e4e4e4" stroke="#e4e4e4" stroke-width="42"/>
<use href="#br10" fill="#dbdbdb" stroke="#dbdbdb" stroke-width="36"/>
<use href="#br10" fill="#d0d0d0" stroke="#d0d0d0" stroke-width="30"/>
<use href="#br10" fill="#c4c4c4" stroke="#c4c4c4" stroke-width="25"/>
<use href="#br10" fill="#b9b9b9" stroke="#b9b9b9" stroke-width="20"/>
<use href="#br10" fill="#adadad" stroke="#adadad" stroke-width="16"/>
<use href="#br10" fill="#a2a2a2" stroke="#a2a2a2" stroke-width="12"/>
<use href="#br10" fill="#989898" stroke="#989898" stroke-width="9"/>
<use href="#br10" fill="#8d8d8d" stroke="#8d8d8d" stroke-width="6"/>
<use href="#br10" fill="#818181" stroke="#818181" stroke-width="3"/>
<use href="#br10" fill="#7b7b7b" stroke="none"/>
</g>
<g style="mix-blend-mode:darken" stroke-linejoin="round">
<use href="#br18" fill="#ffffff" stroke="#ffffff" stroke-width="49"/>
<use href="#br18" fill="#f7f7f7" stroke="#f7f7f7" stroke-width="42"/>
<use href="#br18" fill="#ebebeb" stroke="#ebebeb" stroke-width="36"/>
<use href="#br18" fill="#e2e2e2" stroke="#e2e2e2" stroke-width="30"/>
<use href="#br18" fill="#dbdbdb" stroke="#dbdbdb" stroke-width="25"/>
<use href="#br18" fill="#d1d1d1" stroke="#d1d1d1" stroke-width="20"/>
<use href="#br18" fill="#c8c8c8" stroke="#c8c8c8" stroke-width="16"/>
<use href="#br18" fill="#bfbfbf" stroke="#bfbfbf" stroke-width="12"/>
<use href="#br18" fill="#b7b7b7" stroke="#b7b7b7" stroke-width="9"/>
<use href="#br18" fill="#aeaeae" stroke="#aeaeae" stroke-width="6"/>
<use href="#br18" fill="#a5a5a5" stroke="#a5a5a5" stroke-width="3"/>
<use href="#br18" fill="#a1a1a1" stroke="none"/>
</g>
<g style="mix-blend-mode:darken" stroke-linejoin="round">
<use href="#br19" fill="#fefefe" stroke="#fefefe" stroke-width="49"/>
<use href="#br19" fill="#f4f4f4" stroke="#f4f4f4" stroke-width="42"/>
<use href="#br19" fill="#e7e7e7" stroke="#e7e7e7" stroke-width="36"/>
<use href="#br19" fill="#dfdfdf" stroke="#dfdfdf" stroke-width="30"/>
<use href="#br19" fill="#d7d7d7" stroke="#d7d7d7" stroke-width="25"/>
<use href="#br19" fill="#cdcdcd" stroke="#cdcdcd" stroke-width="20"/>
<use href="#br19" fill="#c3c3c3" stroke="#c3c3c3" stroke-width="16"/>
<use href="#br19" fill="#bababa" stroke="#bababa" stroke-width="12"/>
<use href="#br19" fill="#b1b1b1" stroke="#b1b1b1" stroke-width="9"/>
<use href="#br19" fill="#a8a8a8" stroke="#a8a8a8" stroke-width="6"/>
<use href="#br19" fill="#9f9f9f" stroke="#9f9f9f" stroke-width="3"/>
<use href="#br19" fill="#9a9a9a" stroke="none"/>
</g>
<g style="mix-blend-mode:darken" stroke-linejoin="round">
<use href="#br20" fill="#ffffff" stroke="#ffffff" stroke-width="56"/>
<use href="#br20" fill="#f8f8f8" stroke="#f8f8f8" stroke-width="49"/>
<use href="#br20" fill="#ebebeb" stroke="#ebebeb" stroke-width="42"/>
<use href="#br20" fill="#e1e1e1" stroke="#e1e1e1" stroke-width="36"/>
<use href="#br20" fill="#d9d9d9" stroke="#d9d9d9" stroke-width="30"/>
<use href="#br20" fill="#cecece" stroke="#cecece" stroke-width="25"/>
<use href="#br20" fill="#c3c3c3" stroke="#c3c3c3" stroke-width="20"/>
<use href="#br20" fill="#b9b9b9" stroke="#b9b9b9" stroke-width="16"/>
<use href="#br20" fill="#aeaeae" stroke="#aeaeae" stroke-width="12"/>
<use href="#br20" fill="#a5a5a5" stroke="#a5a5a5" stroke-width="9"/>
<use href="#br20" fill="#9b9b9b" stroke="#9b9b9b" stroke-width="6"/>
<use href="#br20" fill="#919191" stroke="#919191" stroke-width="3"/>
<use href="#br20" fill="#8b8b8b" stroke="none"/>
</g>
<g style="mix-blend-mode:darken" filter="url(#coreblur)">
<circle cx="196.2" cy="102.3" r="6" fill="#000"/>
<circle cx="234.3" cy="161.6" r="6" fill="#000"/>
<circle cx="203.6" cy="216.7" r="6" fill="#000"/>
<circle cx="318.4" cy="97.1" r="6" fill="#000"/>
<circle cx="203" cy="285.7" r="6" fill="#000"/>
<circle cx="165" cy="344.7" r="6" fill="#000"/>
<circle cx="249.7" cy="373.9" r="6" fill="#000"/>
<circle cx="203" cy="513.6" r="6" fill="#000"/>
<circle cx="363.7" cy="186.5" r="6" fill="#000"/>
<circle cx="470.6" cy="210.7" r="6" fill="#000"/>
<circle cx="433.1" cy="142.4" r="6" fill="#000"/>
<circle cx="478.8" cy="107.6" r="6" fill="#000"/>
<circle cx="592.8" cy="73" r="6" fill="#000"/>
<circle cx="486.5" cy="41.5" r="6" fill="#000"/>
<circle cx="341.3" cy="275.5" r="6" fill="#000"/>
<circle cx="380.1" cy="320.3" r="6" fill="#000"/>
<circle cx="394.7" cy="399.1" r="6" fill="#000"/>
<circle cx="317.9" cy="439.4" r="6" fill="#000"/>
<circle cx="455.1" cy="463.6" r="6" fill="#000"/>
<circle cx="395.3" cy="530" r="6" fill="#000"/>
<circle cx="578.8" cy="166.8" r="6" fill="#000"/>
<circle cx="501.7" cy="280.5" r="6" fill="#000"/>
<circle cx="578.8" cy="280.5" r="6" fill="#000"/>
<circle cx="592.4" cy="350.4" r="6" fill="#000"/>
<circle cx="555.5" cy="414.1" r="6" fill="#000"/>
<circle cx="570.6" cy="488.2" r="6" fill="#000"/>
<circle cx="516.9" cy="527.9" r="6" fill="#000"/>
<circle cx="201.5" cy="96.5" r="4" fill="#1a1a1a"/>
<circle cx="198.3" cy="116" r="4" fill="#1a1a1a"/>
<circle cx="228.5" cy="161.8" r="4" fill="#1a1a1a"/>
<circle cx="250" cy="369" r="4" fill="#1a1a1a"/>
<circle cx="335.9" cy="78.4" r="4" fill="#1a1a1a"/>
<circle cx="284.5" cy="91.2" r="4" fill="#1a1a1a"/>
<circle cx="288.5" cy="91.2" r="4" fill="#1a1a1a"/>
<circle cx="296.2" cy="102.9" r="4" fill="#1a1a1a"/>
<circle cx="330.1" cy="95.2" r="4" fill="#1a1a1a"/>
<circle cx="320.3" cy="109.2" r="4" fill="#1a1a1a"/>
<circle cx="319.6" cy="127" r="4" fill="#1a1a1a"/>
<circle cx="291.5" cy="158.5" r="4" fill="#1a1a1a"/>
<circle cx="241.5" cy="196.6" r="4" fill="#1a1a1a"/>
<circle cx="203.6" cy="216.7" r="4" fill="#1a1a1a"/>
<circle cx="172.5" cy="343.5" r="4" fill="#1a1a1a"/>
<circle cx="170.9" cy="409.4" r="4" fill="#1a1a1a"/>
<circle cx="212.4" cy="517.4" r="4" fill="#1a1a1a"/>
<circle cx="377.8" cy="185" r="4" fill="#1a1a1a"/>
<circle cx="419.5" cy="130.4" r="4" fill="#1a1a1a"/>
<circle cx="455.9" cy="152.6" r="4" fill="#1a1a1a"/>
<circle cx="490.6" cy="166.5" r="4" fill="#1a1a1a"/>
<circle cx="433.7" cy="174.6" r="4" fill="#1a1a1a"/>
<circle cx="467.9" cy="194" r="4" fill="#1a1a1a"/>
<circle cx="484" cy="214.5" r="4" fill="#1a1a1a"/>
<circle cx="464.6" cy="221.9" r="4" fill="#1a1a1a"/>
<circle cx="483" cy="100.6" r="4" fill="#1a1a1a"/>
<circle cx="477.2" cy="113.9" r="4" fill="#1a1a1a"/>
<circle cx="523.9" cy="86.1" r="4" fill="#1a1a1a"/>
<circle cx="534" cy="81.2" r="4" fill="#1a1a1a"/>
<circle cx="551" cy="54" r="4" fill="#1a1a1a"/>
<circle cx="351.5" cy="272.6" r="4" fill="#1a1a1a"/>
<circle cx="379.2" cy="266.8" r="4" fill="#1a1a1a"/>
<circle cx="312" cy="295" r="4" fill="#1a1a1a"/>
<circle cx="370.5" cy="319.4" r="4" fill="#1a1a1a"/>
<circle cx="418" cy="322.3" r="4" fill="#1a1a1a"/>
<circle cx="407" cy="388.6" r="4" fill="#1a1a1a"/>
<circle cx="384.5" cy="415.2" r="4" fill="#1a1a1a"/>
<circle cx="326.5" cy="435.5" r="4" fill="#1a1a1a"/>
<circle cx="325.2" cy="471.5" r="4" fill="#1a1a1a"/>
<circle cx="488.1" cy="460.7" r="4" fill="#1a1a1a"/>
<circle cx="482.5" cy="494.8" r="4" fill="#1a1a1a"/>
<circle cx="458.5" cy="467" r="4" fill="#1a1a1a"/>
<circle cx="399.5" cy="530.5" r="4" fill="#1a1a1a"/>
<circle cx="322.3" cy="529" r="4" fill="#1a1a1a"/>
<circle cx="569.5" cy="158.2" r="4" fill="#1a1a1a"/>
<circle cx="579.3" cy="174.5" r="4" fill="#1a1a1a"/>
<circle cx="504.8" cy="266" r="4" fill="#1a1a1a"/>
<circle cx="512.2" cy="285.2" r="4" fill="#1a1a1a"/>
<circle cx="559" cy="289.4" r="4" fill="#1a1a1a"/>
<circle cx="571.8" cy="260.9" r="4" fill="#1a1a1a"/>
<circle cx="596" cy="352.5" r="4" fill="#1a1a1a"/>
<circle cx="570.6" cy="413.6" r="4" fill="#1a1a1a"/>
<circle cx="548.5" cy="479.1" r="4" fill="#1a1a1a"/>
<circle cx="581.2" cy="485.4" r="4" fill="#1a1a1a"/>
<circle cx="573" cy="516.2" r="4" fill="#1a1a1a"/>
<circle cx="520.5" cy="528.5" r="4" fill="#1a1a1a"/>
</g>
</g>
<g fill="none" stroke="#fff" stroke-width="2.6">
<circle cx="196.2" cy="102.3" r="6.8"/>
<circle cx="234.3" cy="161.6" r="6.8"/>
<circle cx="203.6" cy="216.7" r="6.8"/>
<circle cx="318.4" cy="97.1" r="6.8"/>
<circle cx="203" cy="285.7" r="6.8"/>
<circle cx="165" cy="344.7" r="6.8"/>
<circle cx="249.7" cy="373.9" r="6.8"/>
<circle cx="203" cy="513.6" r="6.8"/>
<circle cx="363.7" cy="186.5" r="6.8"/>
<circle cx="470.6" cy="210.7" r="6.8"/>
<circle cx="433.1" cy="142.4" r="6.8"/>
<circle cx="478.8" cy="107.6" r="6.8"/>
<circle cx="592.8" cy="73" r="6.8"/>
<circle cx="486.5" cy="41.5" r="6.8"/>
<circle cx="341.3" cy="275.5" r="6.8"/>
<circle cx="380.1" cy="320.3" r="6.8"/>
<circle cx="394.7" cy="399.1" r="6.8"/>
<circle cx="317.9" cy="439.4" r="6.8"/>
<circle cx="455.1" cy="463.6" r="6.8"/>
<circle cx="395.3" cy="530" r="6.8"/>
<circle cx="578.8" cy="166.8" r="6.8"/>
<circle cx="501.7" cy="280.5" r="6.8"/>
<circle cx="578.8" cy="280.5" r="6.8"/>
<circle cx="592.4" cy="350.4" r="6.8"/>
<circle cx="555.5" cy="414.1" r="6.8"/>
<circle cx="570.6" cy="488.2" r="6.8"/>
<circle cx="516.9" cy="527.9" r="6.8"/>
<path d="M196.7,96.5h9.6M201.5,91.7v9.6M193.5,116h9.6M198.3,111.2v9.6M223.7,161.8h9.6M228.5,157v9.6M245.2,369h9.6M250,364.2v9.6M331.1,78.4h9.6M335.9,73.6v9.6M279.7,91.2h9.6M284.5,86.4v9.6M283.7,91.2h9.6M288.5,86.4v9.6M291.4,102.9h9.6M296.2,98.1v9.6M325.3,95.2h9.6M330.1,90.4v9.6M315.5,109.2h9.6M320.3,104.4v9.6M314.8,127h9.6M319.6,122.2v9.6M286.7,158.5h9.6M291.5,153.7v9.6M236.7,196.6h9.6M241.5,191.8v9.6M198.8,216.7h9.6M203.6,211.9v9.6M167.7,343.5h9.6M172.5,338.7v9.6M166.1,409.4h9.6M170.9,404.6v9.6M207.6,517.4h9.6M212.4,512.6v9.6M373,185h9.6M377.8,180.2v9.6M414.7,130.4h9.6M419.5,125.6v9.6M451.1,152.6h9.6M455.9,147.8v9.6M485.8,166.5h9.6M490.6,161.7v9.6M428.9,174.6h9.6M433.7,169.8v9.6M463.1,194h9.6M467.9,189.2v9.6M479.2,214.5h9.6M484,209.7v9.6M459.8,221.9h9.6M464.6,217.1v9.6M478.2,100.6h9.6M483,95.8v9.6M472.4,113.9h9.6M477.2,109.1v9.6M519.1,86.1h9.6M523.9,81.3v9.6M529.2,81.2h9.6M534,76.4v9.6M546.2,54h9.6M551,49.2v9.6M346.7,272.6h9.6M351.5,267.8v9.6M374.4,266.8h9.6M379.2,262v9.6M307.2,295h9.6M312,290.2v9.6M365.7,319.4h9.6M370.5,314.6v9.6M413.2,322.3h9.6M418,317.5v9.6M402.2,388.6h9.6M407,383.8v9.6M379.7,415.2h9.6M384.5,410.4v9.6M321.7,435.5h9.6M326.5,430.7v9.6M320.4,471.5h9.6M325.2,466.7v9.6M483.3,460.7h9.6M488.1,455.9v9.6M477.7,494.8h9.6M482.5,490v9.6M453.7,467h9.6M458.5,462.2v9.6M394.7,530.5h9.6M399.5,525.7v9.6M317.5,529h9.6M322.3,524.2v9.6M564.7,158.2h9.6M569.5,153.4v9.6M574.5,174.5h9.6M579.3,169.7v9.6M500,266h9.6M504.8,261.2v9.6M507.4,285.2h9.6M512.2,280.4v9.6M554.2,289.4h9.6M559,284.6v9.6M567,260.9h9.6M571.8,256.1v9.6M591.2,352.5h9.6M596,347.7v9.6M565.8,413.6h9.6M570.6,408.8v9.6M543.7,479.1h9.6M548.5,474.3v9.6M576.4,485.4h9.6M581.2,480.6v9.6M568.2,516.2h9.6M573,511.4v9.6M515.7,528.5h9.6M520.5,523.7v9.6"/>
</g></g>
<path d="M192.2,535.5V41.5" stroke="#111" stroke-width="1.4" stroke-dasharray="8.9 8.5" stroke-dashoffset="1" fill="none"/>
<path d="M373.7,535.5V41.5" stroke="#111" stroke-width="1.4" stroke-dasharray="8.9 8.5" stroke-dashoffset="1" fill="none"/>
<path d="M116.5,535.5v-7M116.5,41.5v7M192.2,535.5v-7M192.2,41.5v7M267.8,535.5v-7M267.8,41.5v7M343.5,535.5v-7M343.5,41.5v7M419.1,535.5v-7M419.1,41.5v7M494.8,535.5v-7M494.8,41.5v7M570.4,535.5v-7M570.4,41.5v7M116.5,535.5h7M600.7,535.5h-7M116.5,436.7h7M600.7,436.7h-7M116.5,337.9h7M600.7,337.9h-7M116.5,239.1h7M600.7,239.1h-7M116.5,140.3h7M600.7,140.3h-7M116.5,41.5h7M600.7,41.5h-7" stroke="#262626" stroke-width="1.3" fill="none"/>
<rect x="116.5" y="41.5" width="484.2" height="494" fill="none" stroke="#262626" stroke-width="2"/>
<text x="95.7" y="543.1" font-size="28.3" textLength="16.3" lengthAdjust="spacingAndGlyphs">0</text>
<text x="79.4" y="444.3" font-size="28.3" textLength="32.7" lengthAdjust="spacingAndGlyphs">10</text>
<text x="79.4" y="345.5" font-size="28.3" textLength="32.7" lengthAdjust="spacingAndGlyphs">20</text>
<text x="79.4" y="246.7" font-size="28.3" textLength="32.7" lengthAdjust="spacingAndGlyphs">30</text>
<text x="79.4" y="147.9" font-size="28.3" textLength="32.7" lengthAdjust="spacingAndGlyphs">40</text>
<text x="79.4" y="49.1" font-size="28.3" textLength="32.7" lengthAdjust="spacingAndGlyphs">50</text>
<defs><linearGradient id="cbg" x1="0" y1="0" x2="0" y2="1"><stop offset="0.0000" stop-color="rgb(115,25,30)"/><stop offset="0.0250" stop-color="rgb(137,27,33)"/><stop offset="0.0500" stop-color="rgb(158,29,36)"/><stop offset="0.0750" stop-color="rgb(179,31,39)"/><stop offset="0.1000" stop-color="rgb(198,33,40)"/><stop offset="0.1250" stop-color="rgb(211,39,40)"/><stop offset="0.1500" stop-color="rgb(214,52,40)"/><stop offset="0.1750" stop-color="rgb(218,73,43)"/><stop offset="0.2000" stop-color="rgb(221,96,45)"/><stop offset="0.2250" stop-color="rgb(224,122,45)"/><stop offset="0.2500" stop-color="rgb(229,141,47)"/><stop offset="0.2750" stop-color="rgb(234,157,49)"/><stop offset="0.3000" stop-color="rgb(239,176,52)"/><stop offset="0.3250" stop-color="rgb(244,197,55)"/><stop offset="0.3500" stop-color="rgb(248,220,58)"/><stop offset="0.3750" stop-color="rgb(245,233,61)"/><stop offset="0.4000" stop-color="rgb(228,226,64)"/><stop offset="0.4250" stop-color="rgb(209,220,73)"/><stop offset="0.4500" stop-color="rgb(192,213,83)"/><stop offset="0.4750" stop-color="rgb(179,207,96)"/><stop offset="0.5000" stop-color="rgb(166,200,110)"/><stop offset="0.5250" stop-color="rgb(155,200,127)"/><stop offset="0.5500" stop-color="rgb(144,200,144)"/><stop offset="0.5750" stop-color="rgb(134,200,163)"/><stop offset="0.6000" stop-color="rgb(126,200,182)"/><stop offset="0.6250" stop-color="rgb(118,198,202)"/><stop offset="0.6500" stop-color="rgb(114,194,221)"/><stop offset="0.6750" stop-color="rgb(109,188,239)"/><stop offset="0.7000" stop-color="rgb(96,159,219)"/><stop offset="0.7250" stop-color="rgb(85,133,202)"/><stop offset="0.7500" stop-color="rgb(75,110,185)"/><stop offset="0.7750" stop-color="rgb(71,99,176)"/><stop offset="0.8000" stop-color="rgb(66,88,168)"/><stop offset="0.8250" stop-color="rgb(63,81,162)"/><stop offset="0.8500" stop-color="rgb(61,76,158)"/><stop offset="0.8750" stop-color="rgb(58,71,155)"/><stop offset="0.9000" stop-color="rgb(55,66,151)"/><stop offset="0.9250" stop-color="rgb(52,61,143)"/><stop offset="0.9500" stop-color="rgb(48,55,136)"/><stop offset="0.9750" stop-color="rgb(44,50,128)"/><stop offset="1.0000" stop-color="rgb(40,45,120)"/></linearGradient></defs>
<rect x="624.8" y="41.5" width="13.4" height="494.4" fill="url(#cbg)" stroke="#262626" stroke-width="1.7"/>
<path d="M638.2,535.9h-6.5M638.2,441h-6.5M638.2,346.1h-6.5M638.2,251.2h-6.5M638.2,156.3h-6.5M638.2,61.4h-6.5" stroke="#262626" stroke-width="1.3"/>
<text x="645.3" y="543.1" font-size="27.9" textLength="40.3" lengthAdjust="spacingAndGlyphs">0.0</text>
<text x="645.3" y="448.8" font-size="27.9" textLength="40.3" lengthAdjust="spacingAndGlyphs">0.2</text>
<text x="645.3" y="354.6" font-size="27.9" textLength="40.3" lengthAdjust="spacingAndGlyphs">0.4</text>
<text x="645.3" y="260.3" font-size="27.9" textLength="40.3" lengthAdjust="spacingAndGlyphs">0.6</text>
<text x="645.3" y="166.1" font-size="27.9" textLength="40.3" lengthAdjust="spacingAndGlyphs">0.8</text>
<text x="645.4" y="71.8" font-size="27.9" textLength="40.3" lengthAdjust="spacingAndGlyphs">1.0</text>
<defs><clipPath id="c2"><rect x="116.5" y="583" width="484.2" height="197.5"/></clipPath></defs>
<g clip-path="url(#c2)">
<g fill="rgb(143,193,127)" stroke="rgba(40,40,40,0.72)" stroke-width="2">
<rect x="117" y="771.3" width="7.5" height="11.2"/>
<rect x="124.5" y="751.2" width="7.5" height="31.3"/>
<rect x="132" y="739.2" width="7.5" height="43.3"/>
<rect x="139.5" y="723.1" width="7.5" height="59.4"/>
<rect x="147" y="703.9" width="7.5" height="78.6"/>
<rect x="154.6" y="685.8" width="7.5" height="96.7"/>
<rect x="162.1" y="668" width="7.5" height="114.5"/>
<rect x="169.6" y="644.5" width="7.5" height="138"/>
<rect x="177.1" y="634.1" width="7.5" height="148.4"/>
<rect x="184.6" y="620.7" width="7.5" height="161.8"/>
<rect x="192.2" y="601.4" width="7.5" height="181.1"/>
<rect x="199.7" y="604.9" width="7.5" height="177.6"/>
<rect x="207.2" y="610.9" width="7.5" height="171.6"/>
<rect x="214.7" y="605.7" width="7.5" height="176.8"/>
<rect x="222.2" y="612.2" width="7.5" height="170.3"/>
<rect x="229.7" y="604" width="7.5" height="178.5"/>
<rect x="237.3" y="619.5" width="7.5" height="163"/>
<rect x="244.8" y="600.6" width="7.5" height="181.9"/>
<rect x="252.3" y="606.8" width="7.5" height="175.7"/>
<rect x="259.8" y="610" width="7.5" height="172.5"/>
<rect x="267.3" y="610" width="7.5" height="172.5"/>
<rect x="274.9" y="601.7" width="7.5" height="180.8"/>
<rect x="282.4" y="612.9" width="7.5" height="169.6"/>
<rect x="289.9" y="610.6" width="7.5" height="171.9"/>
<rect x="297.4" y="610" width="7.5" height="172.5"/>
<rect x="304.9" y="605.2" width="7.5" height="177.3"/>
<rect x="312.5" y="610" width="7.5" height="172.5"/>
<rect x="320" y="610.6" width="7.5" height="171.9"/>
<rect x="327.5" y="611.5" width="7.5" height="171"/>
<rect x="335" y="612.9" width="7.5" height="169.6"/>
<rect x="342.5" y="613.5" width="7.5" height="169"/>
<rect x="350.1" y="611.1" width="7.5" height="171.4"/>
<rect x="357.6" y="604.5" width="7.5" height="178"/>
<rect x="365.1" y="605.9" width="7.5" height="176.6"/>
<rect x="372.6" y="607" width="7.5" height="175.5"/>
<rect x="380.1" y="622.2" width="7.5" height="160.3"/>
<rect x="387.7" y="624.5" width="7.5" height="158"/>
<rect x="395.2" y="628.5" width="7.5" height="154"/>
<rect x="402.7" y="635" width="7.5" height="147.5"/>
<rect x="410.2" y="643.3" width="7.5" height="139.2"/>
<rect x="417.7" y="641.4" width="7.5" height="141.1"/>
<rect x="425.3" y="645.6" width="7.5" height="136.9"/>
<rect x="432.8" y="652.6" width="7.5" height="129.9"/>
<rect x="440.3" y="658" width="7.5" height="124.5"/>
<rect x="447.8" y="664.3" width="7.5" height="118.2"/>
<rect x="455.3" y="674.3" width="7.5" height="108.2"/>
<rect x="462.9" y="674.3" width="7.5" height="108.2"/>
<rect x="470.4" y="681.7" width="7.5" height="100.8"/>
<rect x="477.9" y="689.9" width="7.5" height="92.6"/>
<rect x="485.4" y="695.8" width="7.5" height="86.7"/>
<rect x="492.9" y="702.4" width="7.5" height="80.1"/>
<rect x="500.5" y="703.4" width="7.5" height="79.1"/>
<rect x="508" y="707.3" width="7.5" height="75.2"/>
<rect x="515.5" y="709.9" width="7.5" height="72.6"/>
<rect x="523" y="725.7" width="7.5" height="56.8"/>
<rect x="530.5" y="732.7" width="7.5" height="49.8"/>
<rect x="538.1" y="732.7" width="7.5" height="49.8"/>
<rect x="545.6" y="740.5" width="7.5" height="42"/>
<rect x="553.1" y="744.1" width="7.5" height="38.4"/>
<rect x="560.6" y="752.9" width="7.5" height="29.6"/>
<rect x="568.1" y="762.5" width="7.5" height="20"/>
<rect x="575.7" y="766.9" width="7.5" height="15.6"/>
<rect x="583.2" y="770.3" width="7.5" height="12.2"/>
<rect x="590.7" y="776.5" width="7.5" height="6"/>
<rect x="598.2" y="779.5" width="7.5" height="3"/>
</g>
<path d="M192.2,780.5V583" stroke="#262626" stroke-width="1.3" stroke-dasharray="8.9 8.5" stroke-dashoffset="1" fill="none"/>
<path d="M373.7,780.5V583" stroke="#262626" stroke-width="1.3" stroke-dasharray="8.9 8.5" stroke-dashoffset="1" fill="none"/>
<path d="M116.5,780.5C117.8,778.1 121.2,771.6 124.1,765.9C127,760.1 130.7,752.5 133.9,746.1C137.1,739.6 139.6,734.6 143,727.1C146.4,719.7 150.5,709.3 154.3,701.3C158.1,693.3 161.9,686.7 165.7,678.9C169.5,671.2 173.6,661.3 177,654.8C180.4,648.3 183.6,644.1 186.1,640.2C188.6,636.2 190.3,633.7 192.2,631.1C194,628.5 195.8,626.2 197.4,624.7C199.1,623.1 199.7,621.4 202,621.6C204.3,621.8 207.9,625.5 211.1,625.9C214.2,626.2 218.4,623.7 220.9,623.5C223.4,623.4 223.4,624.4 226.2,625C229,625.6 234.1,627.5 237.5,627.4C240.9,627.4 243.5,625.6 246.6,624.7C249.8,623.7 253.4,621.5 256.5,621.5C259.5,621.5 262.1,624.1 264.8,624.7C267.4,625.2 269.6,625.2 272.3,625C275.1,624.8 278.4,623.4 281.4,623.5C284.4,623.5 287.3,624.8 290.5,625.5C293.6,626.3 297.3,627.8 300.3,627.8C303.4,627.8 305.9,626.3 308.7,625.5C311.4,624.8 314.3,623.5 317,623.5C319.6,623.5 322.1,624.9 324.5,625.5C326.9,626.2 328.3,626.5 331.3,627.4C334.4,628.3 338.5,631.3 342.7,630.9C346.9,630.5 351.6,626.4 356.3,625C361,623.6 367.2,623 370.7,622.7C374.2,622.4 375.2,622.5 377.5,623.4C379.8,624.3 381.7,625.7 384.3,628.1C386.9,630.5 389.8,635 393.4,637.6C396.9,640.2 400.8,640.9 405.5,643.6C410.1,646.3 417.2,651.9 421.4,653.9C425.5,655.9 427.3,654.5 430.4,655.7C433.6,656.8 436.8,658.4 440.3,660.8C443.8,663.3 447.7,667.6 451.6,670.3C455.5,673 459.8,674.9 463.7,677.2C467.6,679.5 471.2,680.9 475.1,684.1C479,687.2 483.5,692.8 487.2,696.1C490.8,699.4 493.9,702 497,703.9C500.2,705.7 503.4,706.2 506.1,707.3C508.7,708.5 510.8,709.8 512.9,710.8C515,711.8 517.2,712.3 519,713.3C520.7,714.3 522,714.9 523.5,716.8C525,718.7 526.5,722.2 528,724.5C529.5,726.8 530.8,728.6 532.6,730.6C534.3,732.5 536.4,734.6 538.6,736.2C540.9,737.7 543.9,738.7 546.2,740C548.5,741.3 550.1,742.2 552.2,743.9C554.4,745.6 556.7,748.1 559.1,750.4C561.4,752.7 564.5,755.5 566.6,757.7C568.8,759.8 570.3,761.8 571.9,763.3C573.6,764.8 574.4,765.2 576.5,766.6C578.5,768.1 581.4,770.4 584,771.9C586.6,773.4 589.6,774.5 592,775.8C594.4,777 597.3,778.8 598.4,779.5" stroke="rgb(207,203,58)" stroke-width="4.4" fill="none" stroke-linejoin="round"/>
<path d="M116.5,780.5L192.2,608.3L373.7,608.3L600.7,780.5" stroke="#222" stroke-width="2.3" fill="none"/>
</g>
<path d="M116.5,780.5v-7M116.5,583v7M192.2,780.5v-7M192.2,583v7M267.8,780.5v-7M267.8,583v7M343.5,780.5v-7M343.5,583v7M419.1,780.5v-7M419.1,583v7M494.8,780.5v-7M494.8,583v7M570.4,780.5v-7M570.4,583v7M116.5,780.5h7M600.7,780.5h-7M116.5,694.4h7M600.7,694.4h-7M116.5,608.3h7M600.7,608.3h-7" stroke="#262626" stroke-width="1.3" fill="none"/>
<rect x="116.5" y="583" width="484.2" height="197.5" fill="none" stroke="#262626" stroke-width="2"/>
<text x="69.7" y="788" font-size="27.5" textLength="41.1" lengthAdjust="spacingAndGlyphs">0.0</text>
<text x="70" y="701.9" font-size="27.5" textLength="41.1" lengthAdjust="spacingAndGlyphs">0.1</text>
<text x="70.2" y="615.8" font-size="27.5" textLength="41.1" lengthAdjust="spacingAndGlyphs">0.2</text>
<rect x="216.8" y="707.4" width="188.6" height="59.4" fill="#fff" stroke="#262626" stroke-width="1.6"/>
<rect x="231" y="718" width="51.6" height="13.2" fill="rgb(143,193,127)" stroke="rgb(128,128,128)" stroke-width="2.4"/>
<path d="M237.6,749.8H279" stroke="rgb(207,203,58)" stroke-width="4.4"/>
<text x="297.1" y="732.7" font-size="22">Expected</text>
<text x="298" y="759" font-size="22">Actual</text>
<defs><clipPath id="c3"><rect x="116.5" y="828.5" width="484.2" height="197.1"/></clipPath></defs>
<g clip-path="url(#c3)">
<g fill="rgb(207,37,41)" stroke="rgb(30,30,30)" stroke-width="1.7">
<rect x="122" y="1024.3" width="7.4" height="3.3"/>
<rect x="129.4" y="1019" width="7.4" height="8.6"/>
<rect x="136.8" y="971.7" width="7.4" height="55.9"/>
<rect x="144.2" y="911.9" width="7.4" height="115.7"/>
<rect x="151.6" y="903.3" width="7.4" height="124.3"/>
<rect x="159" y="902" width="7.4" height="125.6"/>
<rect x="166.3" y="904" width="7.4" height="123.6"/>
<rect x="173.7" y="902" width="7.4" height="125.6"/>
<rect x="181.1" y="907.3" width="7.4" height="120.3"/>
<rect x="188.5" y="910.6" width="7.4" height="117"/>
<rect x="195.9" y="925.7" width="7.4" height="101.9"/>
<rect x="203.3" y="927" width="7.4" height="100.6"/>
<rect x="210.7" y="913.2" width="7.4" height="114.4"/>
<rect x="218.1" y="915.2" width="7.4" height="112.4"/>
<rect x="225.5" y="917.8" width="7.4" height="109.8"/>
<rect x="232.9" y="922.4" width="7.4" height="105.2"/>
<rect x="240.3" y="923.7" width="7.4" height="103.9"/>
<rect x="247.6" y="913.9" width="7.4" height="113.7"/>
<rect x="255" y="904.7" width="7.4" height="122.9"/>
<rect x="262.4" y="927" width="7.4" height="100.6"/>
<rect x="269.8" y="909.3" width="7.4" height="118.3"/>
<rect x="277.2" y="909.3" width="7.4" height="118.3"/>
<rect x="284.6" y="915.8" width="7.4" height="111.8"/>
<rect x="292" y="917.8" width="7.4" height="109.8"/>
<rect x="299.4" y="912.5" width="7.4" height="115.1"/>
<rect x="306.8" y="912.5" width="7.4" height="115.1"/>
<rect x="314.2" y="917.8" width="7.4" height="109.8"/>
<rect x="321.6" y="917.8" width="7.4" height="109.8"/>
<rect x="328.9" y="917.1" width="7.4" height="110.5"/>
<rect x="336.3" y="915.8" width="7.4" height="111.8"/>
<rect x="343.7" y="911.2" width="7.4" height="116.4"/>
<rect x="351.1" y="911.2" width="7.4" height="116.4"/>
<rect x="358.5" y="911.2" width="7.4" height="116.4"/>
<rect x="365.9" y="910.6" width="7.4" height="117"/>
<rect x="373.3" y="915.2" width="7.4" height="112.4"/>
<rect x="380.7" y="915.2" width="7.4" height="112.4"/>
<rect x="388.1" y="915.8" width="7.4" height="111.8"/>
<rect x="395.5" y="913.2" width="7.4" height="114.4"/>
<rect x="402.9" y="915.8" width="7.4" height="111.8"/>
<rect x="410.2" y="914.5" width="7.4" height="113.1"/>
<rect x="417.6" y="911.2" width="7.4" height="116.4"/>
<rect x="425" y="911.2" width="7.4" height="116.4"/>
<rect x="432.4" y="902.7" width="7.4" height="124.9"/>
<rect x="439.8" y="902.7" width="7.4" height="124.9"/>
<rect x="447.2" y="917.1" width="7.4" height="110.5"/>
<rect x="454.6" y="918.5" width="7.4" height="109.1"/>
<rect x="462" y="911.9" width="7.4" height="115.7"/>
<rect x="469.4" y="913.2" width="7.4" height="114.4"/>
<rect x="476.8" y="915.2" width="7.4" height="112.4"/>
<rect x="484.2" y="919.8" width="7.4" height="107.8"/>
<rect x="491.6" y="924.4" width="7.4" height="103.2"/>
<rect x="498.9" y="920.4" width="7.4" height="107.2"/>
<rect x="506.3" y="897.4" width="7.4" height="130.2"/>
<rect x="513.7" y="875.1" width="7.4" height="152.5"/>
<rect x="521.1" y="886.9" width="7.4" height="140.7"/>
<rect x="528.5" y="919.8" width="7.4" height="107.8"/>
<rect x="535.9" y="945.4" width="7.4" height="82.2"/>
<rect x="543.3" y="964.5" width="7.4" height="63.1"/>
<rect x="550.7" y="988.1" width="7.4" height="39.5"/>
<rect x="558.1" y="1004.6" width="7.4" height="23"/>
<rect x="565.5" y="1014.4" width="7.4" height="13.2"/>
<rect x="572.9" y="1018.4" width="7.4" height="9.2"/>
<rect x="580.2" y="1021" width="7.4" height="6.6"/>
<rect x="587.6" y="1023" width="7.4" height="4.6"/>
<rect x="595" y="1024.3" width="7.4" height="3.3"/>
</g>
<path d="M192.2,1025.6V828.5" stroke="#262626" stroke-width="1.3" stroke-dasharray="8.9 8.5" stroke-dashoffset="1" fill="none"/>
<path d="M373.7,1025.6V828.5" stroke="#262626" stroke-width="1.3" stroke-dasharray="8.9 8.5" stroke-dashoffset="1" fill="none"/>
<path d="M116.5,1023.6C116.8,1023.5 117.2,1022.8 118.3,1023C119.4,1023.2 121.4,1025.2 123,1024.9C124.6,1024.7 126.3,1024 127.7,1021.7C129.1,1019.4 130,1017.3 131.2,1011.1C132.3,1005 133.5,994 134.7,984.8C135.8,975.6 137.1,965.2 138.2,955.9C139.3,946.6 140.1,936.2 141.1,929C142.1,921.7 143.2,916.5 144,912.5C144.9,908.6 145.4,905.9 146.4,905.3C147.4,904.8 148.6,910.6 149.9,909.3C151.1,907.9 152.6,898.3 153.9,897.4C155.3,896.6 156.7,903.3 158,904C159.4,904.7 160.8,902 162.1,901.4C163.4,900.7 164.4,897.9 165.7,900.1C166.9,902.2 168.5,915.2 169.8,914.5C171,913.9 172.1,896.3 173.2,896.1C174.4,895.9 175.5,910.7 176.7,913.2C177.9,915.7 179,912.4 180.3,911.2C181.5,910 183,905.1 184.4,906C185.7,906.8 187.2,915.6 188.4,916.5C189.7,917.4 190.9,909.3 192.1,911.2C193.3,913.2 194.4,929.9 195.6,928.3C196.9,926.7 198.3,902.4 199.6,901.5C201,900.6 202.3,918.9 203.5,923.1C204.7,927.2 205.3,928.2 207.1,926.3C208.8,924.5 212.1,912.4 214,911.9C215.9,911.3 217.1,922.8 218.4,923.1C219.7,923.3 220.6,913.2 221.9,913.2C223.2,913.2 224.9,922.4 226.2,923.1C227.5,923.7 228,917.1 229.7,917.1C231.5,917.1 234.2,923.9 236.7,923.1C239.2,922.2 242.6,912.9 244.7,911.9C246.7,910.9 247,917.8 248.9,917.1C250.8,916.5 254.3,909 256.1,907.9C257.8,906.8 258,907.8 259.5,910.6C260.9,913.3 263.3,922.7 264.8,924.4C266.2,926 267.2,920.1 268.3,920.4C269.5,920.8 270.1,926.3 271.6,926.3C273.1,926.3 275.4,924.4 277.2,920.4C279,916.5 280.8,903.8 282.4,902.7C284,901.6 284.7,909.9 286.7,913.9C288.8,917.8 292.3,926.9 294.7,926.3C297.1,925.8 299.2,910.6 301.1,910.6C303,910.6 304.6,925.5 306.2,926.3C307.7,927.2 308.9,916.2 310.5,915.8C312.1,915.5 314,924.7 315.8,924.4C317.5,924 319.3,914.7 321.1,913.9C322.8,913 324.5,917 326.3,919.1C328,921.2 329.8,926 331.6,926.3C333.3,926.7 335,923.2 336.8,921.1C338.5,919 340.3,915.7 342.1,913.9C343.8,912 345.3,908.2 347.3,909.9C349.4,911.7 352,923.7 354.3,924.4C356.7,925 359.5,915.9 361.4,913.9C363.3,911.8 364.2,913.1 365.7,911.9C367.1,910.7 368.8,905.1 370.1,906.6C371.4,908.2 372.3,919.4 373.6,921.1C375,922.7 376.3,917.1 378,916.5C379.8,915.8 382.3,916.7 384.1,917.1C386,917.6 387.9,917.6 389.4,919.1C390.8,920.7 391.4,926 392.8,926.3C394.3,926.7 396.2,924.3 398.1,921.1C400,917.9 402.5,906.4 404.3,907.3C406,908.2 406.9,926.8 408.7,926.3C410.4,925.9 412.8,904.7 414.6,904.7C416.3,904.7 417.6,924.9 419.3,926.3C420.9,927.8 422.5,913.5 424.5,913.2C426.6,912.9 429.2,925.8 431.6,924.4C433.9,923 436.4,906.1 438.5,904.7C440.7,903.2 442.8,915.4 444.7,915.8C446.6,916.3 448.4,907.1 450,907.3C451.6,907.5 452.5,914.7 454.4,917.1C456.2,919.6 459,922.3 461.3,921.7C463.6,921.2 466,913.7 468.3,913.9C470.7,914 473.3,922.3 475.3,922.4C477.4,922.5 478.9,915.4 480.6,914.5C482.4,913.6 484.1,915.2 485.8,917.1C487.6,919.1 489.4,924.3 491.1,926.3C492.9,928.4 494.6,932.2 496.3,929.6C498.1,927.1 500,911.6 501.6,911.2C503.2,910.9 504.3,928 506,927.7C507.8,927.3 510,915.4 512.1,909.3C514.3,903.1 517.3,896 519.2,890.9C521.1,885.7 521.9,880.1 523.5,878.4C525.1,876.6 527.1,876.9 528.8,880.3C530.5,883.7 532.3,893.8 533.8,898.7C535.3,903.7 536.6,904.1 537.8,909.9C539,915.7 540,929.6 541,933.6C542.1,937.5 543.2,929 544.2,933.6C545.3,938.2 545.5,955.7 547.4,961.2C549.3,966.7 553.4,962.4 555.5,966.4C557.6,970.5 558.4,979.7 560.3,985.5C562.1,991.3 564.8,997.3 566.7,1001.3C568.6,1005.2 569.9,1007.1 571.5,1009.2C573.1,1011.2 574.5,1012.6 576.4,1013.8C578.3,1015 580.7,1015.4 582.8,1016.4C584.9,1017.4 587.3,1018.6 589.2,1019.7C591,1020.8 592.4,1022.5 594,1023C595.6,1023.4 597.4,1022.1 598.8,1022.3C600.3,1022.5 602.2,1024 602.9,1024.3" stroke="rgb(59,84,166)" stroke-width="4.4" fill="none" stroke-linejoin="round"/>
</g>
<path d="M116.5,1025.6v-7M116.5,828.5v7M192.2,1025.6v-7M192.2,828.5v7M267.8,1025.6v-7M267.8,828.5v7M343.5,1025.6v-7M343.5,828.5v7M419.1,1025.6v-7M419.1,828.5v7M494.8,1025.6v-7M494.8,828.5v7M570.4,1025.6v-7M570.4,828.5v7M116.5,1025.6h7M600.7,1025.6h-7M116.5,959.9h7M600.7,959.9h-7M116.5,894.1h7M600.7,894.1h-7M116.5,828.4h7M600.7,828.4h-7" stroke="#262626" stroke-width="1.3" fill="none"/>
<rect x="116.5" y="828.5" width="484.2" height="197.1" fill="none" stroke="#262626" stroke-width="2"/>
<text x="53.3" y="1032.9" font-size="27.6" textLength="57.9" lengthAdjust="spacingAndGlyphs">0.00</text>
<text x="53.6" y="967.2" font-size="27.6" textLength="57.9" lengthAdjust="spacingAndGlyphs">0.01</text>
<text x="53.7" y="901.4" font-size="27.6" textLength="57.9" lengthAdjust="spacingAndGlyphs">0.02</text>
<text x="53.4" y="835.7" font-size="27.6" textLength="57.9" lengthAdjust="spacingAndGlyphs">0.03</text>
<defs><clipPath id="c4"><rect x="116.5" y="1073" width="484.2" height="197.2"/></clipPath></defs>
<g clip-path="url(#c4)">
<path d="M192.2,1270.2V1073" stroke="#262626" stroke-width="1.3" stroke-dasharray="8.9 8.5" stroke-dashoffset="1" fill="none"/>
<path d="M373.7,1270.2V1073" stroke="#262626" stroke-width="1.3" stroke-dasharray="8.9 8.5" stroke-dashoffset="1" fill="none"/>
<path d="M116.5,1204.1H600.7" stroke="#262626" stroke-width="1.3" stroke-dasharray="8.9 8.5" fill="none"/>
<path d="M119.7,1252.2C120.7,1248.4 123.6,1237.4 125.9,1229.4C128.2,1221.4 131.1,1211.1 133.4,1204.1C135.7,1197.1 137.5,1191.8 139.6,1187.2C141.6,1182.7 143.7,1179.2 145.8,1176.9C147.8,1174.6 149.9,1173.8 152,1173.5C154,1173.2 155.5,1174 158.2,1175.3C160.9,1176.5 164.8,1179.1 168.1,1181C171.4,1182.8 174.3,1185 178,1186.4C181.7,1187.9 186.3,1188.9 190.5,1189.7C194.6,1190.4 198.8,1190.7 202.9,1190.9C207,1191.1 209.5,1191.2 215.3,1191C221.1,1190.9 230.1,1189.9 237.5,1190.1C245,1190.3 251.9,1191.8 260,1192.1C268.1,1192.5 273,1192.5 286,1192.2C299,1191.9 323.1,1190.3 338,1190.5C352.9,1190.7 362.9,1193.1 375.3,1193.4C387.7,1193.6 402.4,1192.1 412.5,1192.2C422.6,1192.3 429.6,1193.5 436,1194C442.4,1194.6 445.1,1194.9 450.9,1195.4C456.7,1195.9 464.9,1197.1 470.7,1197.2C476.5,1197.2 480.6,1196.3 485.6,1195.7C490.6,1195 496.8,1193.4 500.5,1193.4C504.2,1193.3 505.1,1193.5 508,1195.1C510.9,1196.8 514.6,1200.6 517.9,1203.3C521.2,1206 525.1,1209.8 527.8,1211.4C530.5,1213.1 531.9,1213.3 534,1213.2C536.1,1213.1 537.9,1213 540.2,1210.8C542.5,1208.5 544.8,1205.2 547.7,1199.6C550.6,1194 554.3,1185.9 557.6,1177.2C560.9,1168.5 564.2,1157 567.5,1147.5C570.8,1138 574.2,1128.5 577.5,1120.2C580.8,1111.9 584.5,1103.6 587.4,1097.7C590.3,1091.9 592.8,1089.1 594.8,1085.4C596.9,1081.7 598.4,1078.3 599.8,1075.4C601.3,1072.6 603,1069.3 603.7,1068.1" stroke="rgb(196,58,44)" stroke-width="4.4" fill="none" stroke-linejoin="round"/>
</g>
<path d="M116.5,1270.2v-7M116.5,1073v7M192.2,1270.2v-7M192.2,1073v7M267.8,1270.2v-7M267.8,1073v7M343.5,1270.2v-7M343.5,1073v7M419.1,1270.2v-7M419.1,1073v7M494.8,1270.2v-7M494.8,1073v7M570.4,1270.2v-7M570.4,1073v7M116.5,1238.1h7M600.7,1238.1h-7M116.5,1204.1h7M600.7,1204.1h-7M116.5,1170.1h7M600.7,1170.1h-7M116.5,1136.1h7M600.7,1136.1h-7M116.5,1102.1h7M600.7,1102.1h-7" stroke="#262626" stroke-width="1.3" fill="none"/>
<rect x="116.5" y="1073" width="484.2" height="197.2" fill="none" stroke="#262626" stroke-width="2"/>
<text x="43.8" y="1245.9" font-size="26.4" textLength="67.3" lengthAdjust="spacingAndGlyphs">−0.25</text>
<text x="59.3" y="1211.9" font-size="26.4" textLength="51.8" lengthAdjust="spacingAndGlyphs">0.00</text>
<text x="59.4" y="1177.9" font-size="26.4" textLength="51.8" lengthAdjust="spacingAndGlyphs">0.25</text>
<text x="59.3" y="1143.9" font-size="26.4" textLength="51.8" lengthAdjust="spacingAndGlyphs">0.50</text>
<text x="59.4" y="1109.9" font-size="26.4" textLength="51.8" lengthAdjust="spacingAndGlyphs">0.75</text>
<text x="106.3" y="1295.5" font-size="27.7" textLength="16.8" lengthAdjust="spacingAndGlyphs">0</text>
<text x="173.1" y="1295.5" font-size="27.7" textLength="33.6" lengthAdjust="spacingAndGlyphs">10</text>
<text x="249.1" y="1295.5" font-size="27.7" textLength="33.6" lengthAdjust="spacingAndGlyphs">20</text>
<text x="324.9" y="1295.5" font-size="27.7" textLength="33.6" lengthAdjust="spacingAndGlyphs">30</text>
<text x="400.9" y="1295.5" font-size="27.7" textLength="33.6" lengthAdjust="spacingAndGlyphs">40</text>
<text x="476.2" y="1295.5" font-size="27.7" textLength="33.6" lengthAdjust="spacingAndGlyphs">50</text>
<text x="551.7" y="1295.5" font-size="27.7" textLength="33.6" lengthAdjust="spacingAndGlyphs">60</text>
<text transform="rotate(-90)" x="-297" y="22.9" font-size="30.3" font-style="italic">x</text>
<text transform="rotate(-90)" x="-274.8" y="22.9" font-size="30.3">[ξ]</text>
<text transform="rotate(-90)" x="-694.1" y="22.8" font-size="30" font-style="italic">ρ</text>
<text transform="rotate(-90)" x="-675.9" y="32.7" font-size="17.7">i</text>
<text transform="rotate(-90)" x="-942" y="22.8" font-size="30" font-style="italic">ρ</text>
<text transform="rotate(-90)" x="-922.8" y="32.9" font-size="16.8">v</text>
<text transform="rotate(-90)" x="-1209" y="22.6" font-size="29.6" font-style="italic">J</text>
<text transform="rotate(-90)" x="-1194.6" y="33.1" font-size="17.4">x</text>
<text transform="rotate(-90)" x="-1177.7" y="22.6" font-size="29.6">[</text>
<text transform="rotate(-90)" x="-1167.7" y="22.6" font-size="29.6" font-style="italic">J</text>
<text transform="rotate(-90)" x="-1153.8" y="33" font-size="17.5">dp</text>
<text transform="rotate(-90)" x="-1133.9" y="22.6" font-size="29.6">]</text>
<text x="351.9" y="1328" font-size="30.3" font-style="italic">y</text>
<text x="374.2" y="1328" font-size="30.3">[ξ]</text>
<text x="612.8" y="24" font-size="29.8">|</text>
<text x="620.4" y="29.2" font-size="31.6" textLength="22.4" lengthAdjust="spacingAndGlyphs">Ψ</text>
<text x="642" y="24" font-size="29.8">|</text>
<text x="649.3" y="13" font-size="16" textLength="10.7" lengthAdjust="spacingAndGlyphs">2</text>
</g></svg></body></html>
